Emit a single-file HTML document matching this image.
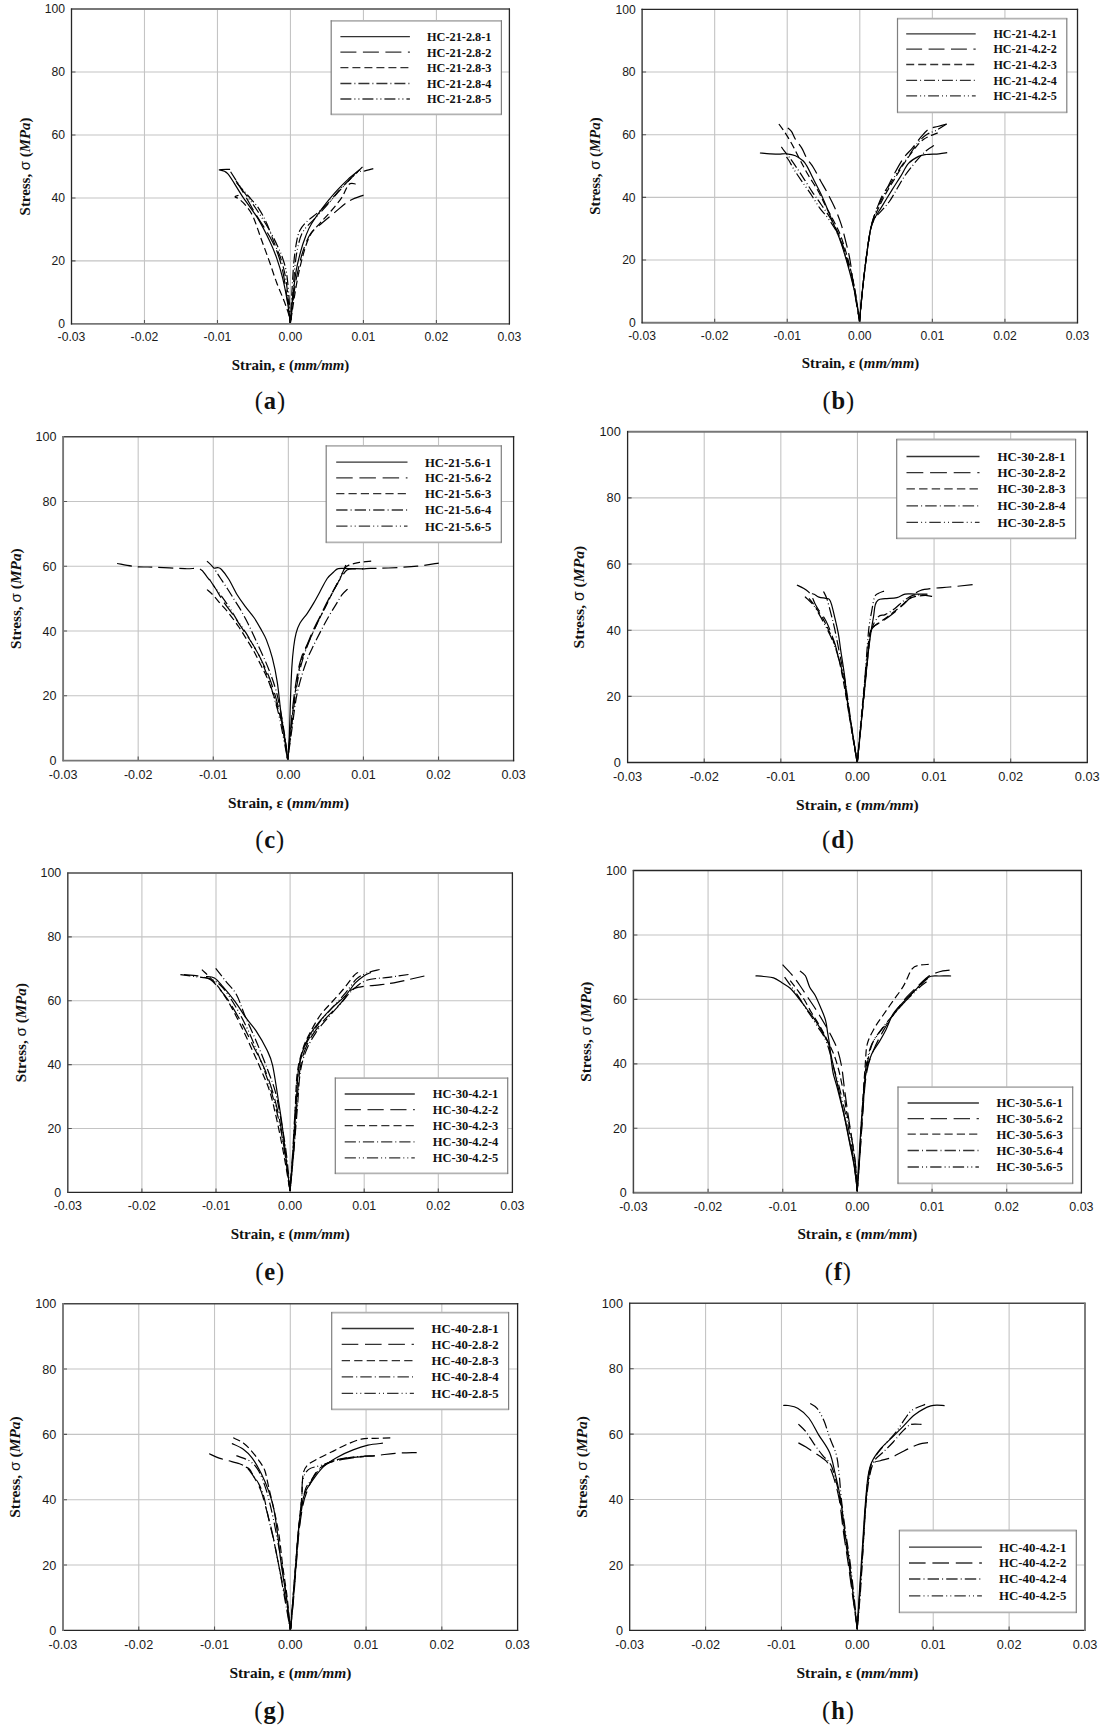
<!DOCTYPE html><html><head><meta charset="utf-8"><style>html,body{margin:0;padding:0;background:#fff;}svg{display:block}.tk{font-family:"Liberation Sans",sans-serif;font-size:12.2px;fill:#1a1a1a}.lg{font-family:"Liberation Serif",serif;font-weight:bold;font-size:12px;fill:#111}.ax{font-family:"Liberation Serif",serif;font-weight:bold;font-size:14.9px;fill:#111}.sb{font-family:"Liberation Serif",serif;font-size:24.5px;fill:#111;letter-spacing:0.9px}</style></head><body><svg width="1108" height="1732" viewBox="0 0 1108 1732"><rect width="1108" height="1732" fill="#fff"/><g><path d="M144.48 9V323.9M217.47 9V323.9M290.45 9V323.9M363.43 9V323.9M436.42 9V323.9M71.5 260.92H509.4M71.5 197.94H509.4M71.5 134.96H509.4M71.5 71.98H509.4" stroke="#c4c4c4" stroke-width="1.1" fill="none"/><path d="M144.48 323.9V319.9M217.47 323.9V319.9M290.45 323.9V319.9M363.43 323.9V319.9M436.42 323.9V319.9M71.5 260.92H75.5M71.5 197.94H75.5M71.5 134.96H75.5M71.5 71.98H75.5" stroke="#555" stroke-width="1.1" fill="none"/><rect x="331.2" y="20.8" width="170.2" height="93.5" fill="#fff"/><path d="M330.7 20.8H501.9M330.7 114.3H501.9" stroke="#b2b2b2" stroke-width="1.8" fill="none"/><path d="M331.2 20.3V114.8M501.4 20.3V114.8" stroke="#7f7f7f" stroke-width="1.2" fill="none"/><path d="M340.4 36.7H409.9" stroke="#333" stroke-width="1.3" fill="none"/><text class="lg" style="font-size:12px" x="427" y="41" textLength="64.5" lengthAdjust="spacingAndGlyphs">HC-21-2.8-1</text><path d="M340.4 52.2H409.9" stroke="#333" stroke-width="1.3" fill="none" stroke-dasharray="16.0 6.5"/><text class="lg" style="font-size:12px" x="427" y="56.5" textLength="64.5" lengthAdjust="spacingAndGlyphs">HC-21-2.8-2</text><path d="M340.4 67.6H409.9" stroke="#333" stroke-width="1.3" fill="none" stroke-dasharray="8.0 4.0"/><text class="lg" style="font-size:12px" x="427" y="71.9" textLength="64.5" lengthAdjust="spacingAndGlyphs">HC-21-2.8-3</text><path d="M340.4 83.5H409.9" stroke="#333" stroke-width="1.3" fill="none" stroke-dasharray="11.0 3.0 1.0 3.0"/><text class="lg" style="font-size:12px" x="427" y="87.8" textLength="64.5" lengthAdjust="spacingAndGlyphs">HC-21-2.8-4</text><path d="M340.4 99H409.9" stroke="#333" stroke-width="1.3" fill="none" stroke-dasharray="11.0 3.0 1.0 3.0 1.0 3.0"/><text class="lg" style="font-size:12px" x="427" y="103.3" textLength="64.5" lengthAdjust="spacingAndGlyphs">HC-21-2.8-5</text><path d="M230.1 169.3C228.3 169.38 219.7 169.07 219.3 169.8C218.9 170.53 223.85 169.28 227.7 173.7C231.55 178.12 237.33 188.77 242.4 196.3C247.47 203.83 253.52 211.37 258.1 218.9C262.68 226.43 266.8 234.97 269.9 241.5C273 248.03 274.58 252.05 276.7 258.1C278.82 264.15 280.8 270.43 282.6 277.8C284.4 285.17 286.22 294.78 287.5 302.3C288.78 309.82 289.83 319.47 290.3 322.9" stroke="#000" stroke-width="1.2" fill="none" stroke-linejoin="round"/><path d="M236 180.6C236.9 182.07 239.35 185.97 241.4 189.4C243.45 192.83 245.85 196.95 248.3 201.2C250.75 205.45 253.32 210.32 256.1 214.9C258.88 219.48 262.22 224.12 265 228.7C267.78 233.28 270.52 237.82 272.8 242.4C275.08 246.98 276.98 251.12 278.7 256.2C280.42 261.28 281.72 266.03 283.1 272.9C284.48 279.77 285.8 289.07 287 297.4C288.2 305.73 289.75 318.65 290.3 322.9" stroke="#000" stroke-width="1.2" fill="none" stroke-linejoin="round" stroke-dasharray="14.4 5.8"/><path d="M238.5 195.3C237.92 195.55 234.85 196.13 235 196.8C235.15 197.47 237.52 197.75 239.4 199.3C241.28 200.85 244 203.17 246.3 206.1C248.6 209.03 250.75 211.5 253.2 216.9C255.65 222.3 258.38 231.3 261 238.5C263.62 245.7 266.28 252.73 268.9 260.1C271.52 267.47 274.08 275.67 276.7 282.7C279.32 289.73 282.47 296.58 284.6 302.3C286.73 308.02 288.55 313.57 289.5 317C290.45 320.43 290.17 321.92 290.3 322.9" stroke="#000" stroke-width="1.2" fill="none" stroke-linejoin="round" stroke-dasharray="7.2 3.6"/><path d="M236.5 182.6C237.48 183.73 239.95 186.62 242.4 189.4C244.85 192.18 248.42 196.02 251.2 199.3C253.98 202.58 256.48 205.02 259.1 209.1C261.72 213.18 264.28 217.92 266.9 223.8C269.52 229.68 272.5 238.68 274.8 244.4C277.1 250.12 278.9 252.53 280.7 258.1C282.5 263.67 284.3 270.43 285.6 277.8C286.9 285.17 287.72 294.78 288.5 302.3C289.28 309.82 290 319.47 290.3 322.9" stroke="#000" stroke-width="1.2" fill="none" stroke-linejoin="round" stroke-dasharray="9.9 2.7 0.9 2.7"/><path d="M230.6 171.8C232.4 174.58 237.8 183.27 241.4 188.5C245 193.73 248.77 198.3 252.2 203.2C255.63 208.1 258.9 213 262 217.9C265.1 222.8 268.18 227.85 270.8 232.6C273.42 237.35 275.73 242.15 277.7 246.4C279.67 250.65 281.13 253.68 282.6 258.1C284.07 262.52 285.43 266.35 286.5 272.9C287.57 279.45 288.37 289.07 289 297.4C289.63 305.73 290.08 318.65 290.3 322.9" stroke="#000" stroke-width="1.2" fill="none" stroke-linejoin="round" stroke-dasharray="9.9 2.7 0.9 2.7 0.9 2.7"/><path d="M359.6 169.8C357.63 171.43 351.4 176.33 347.8 179.6C344.2 182.87 341.6 185.47 338 189.4C334.4 193.33 330.62 197.47 326.2 203.2C321.78 208.93 314.93 218.25 311.5 223.8C308.07 229.35 307.4 231.92 305.6 236.5C303.8 241.08 302.33 245.23 300.7 251.3C299.07 257.37 297.18 264.4 295.8 272.9C294.42 281.4 293.3 293.88 292.4 302.3C291.5 310.72 290.73 319.88 290.4 323.4" stroke="#000" stroke-width="1.2" fill="none" stroke-linejoin="round"/><path d="M363.5 195.1C361.05 196.12 353.7 198.22 348.8 201.2C343.9 204.18 338.52 209.4 334.1 213C329.68 216.6 326.15 219.45 322.3 222.8C318.45 226.15 313.95 229.17 311 233.1C308.05 237.03 306.48 241.42 304.6 246.4C302.72 251.38 301.33 256.13 299.7 263C298.07 269.87 296.35 277.53 294.8 287.6C293.25 297.67 291.13 317.43 290.4 323.4" stroke="#000" stroke-width="1.2" fill="none" stroke-linejoin="round" stroke-dasharray="14.4 5.8"/><path d="M355.7 184C354.55 184.08 351.1 182.28 348.8 184.5C346.5 186.72 344.85 192.88 341.9 197.3C338.95 201.72 334.7 206.75 331.1 211C327.5 215.25 323.73 218.87 320.3 222.8C316.87 226.73 313.28 229.53 310.5 234.6C307.72 239.67 305.88 245.18 303.6 253.2C301.32 261.22 299 271 296.8 282.7C294.6 294.4 291.47 316.62 290.4 323.4" stroke="#000" stroke-width="1.2" fill="none" stroke-linejoin="round" stroke-dasharray="7.2 3.6"/><path d="M362.5 166.9C361.03 168.37 357.45 171.95 353.7 175.7C349.95 179.45 344.25 184.82 340 189.4C335.75 193.98 331.97 199.27 328.2 203.2C324.43 207.13 321 209.9 317.4 213C313.8 216.1 309.55 218.85 306.6 221.8C303.65 224.75 301.42 227.1 299.7 230.7C297.98 234.3 297.28 238.02 296.3 243.4C295.32 248.78 294.53 254.82 293.8 263C293.07 271.18 292.47 282.43 291.9 292.5C291.33 302.57 290.65 318.25 290.4 323.4" stroke="#000" stroke-width="1.2" fill="none" stroke-linejoin="round" stroke-dasharray="9.9 2.7 0.9 2.7"/><path d="M373.3 168.6C371.67 169.05 366.12 170.68 363.5 171.3C360.88 171.92 360.05 170.75 357.6 172.3C355.15 173.85 352.07 177.25 348.8 180.6C345.53 183.95 341.77 188.15 338 192.4C334.23 196.65 330.13 201.68 326.2 206.1C322.27 210.52 318.17 214.8 314.4 218.9C310.63 223 306.22 226.62 303.6 230.7C300.98 234.78 300.08 238.02 298.7 243.4C297.32 248.78 296.27 254.82 295.3 263C294.33 271.18 293.72 282.43 292.9 292.5C292.08 302.57 290.82 318.25 290.4 323.4" stroke="#000" stroke-width="1.2" fill="none" stroke-linejoin="round" stroke-dasharray="9.9 2.7 0.9 2.7 0.9 2.7"/><path d="M70.9 9H510" stroke="#777" stroke-width="1.9" fill="none"/><path d="M70.9 323.9H510" stroke="#777" stroke-width="1.9" fill="none"/><path d="M71.5 8.4V324.5" stroke="#262626" stroke-width="1.3" fill="none"/><path d="M509.4 8.4V324.5" stroke="#262626" stroke-width="1.3" fill="none"/><text class="tk" style="font-size:12.2px" x="71.5" y="341.2" text-anchor="middle">-0.03</text><text class="tk" style="font-size:12.2px" x="144.48" y="341.2" text-anchor="middle">-0.02</text><text class="tk" style="font-size:12.2px" x="217.47" y="341.2" text-anchor="middle">-0.01</text><text class="tk" style="font-size:12.2px" x="290.45" y="341.2" text-anchor="middle">0.00</text><text class="tk" style="font-size:12.2px" x="363.43" y="341.2" text-anchor="middle">0.01</text><text class="tk" style="font-size:12.2px" x="436.42" y="341.2" text-anchor="middle">0.02</text><text class="tk" style="font-size:12.2px" x="509.4" y="341.2" text-anchor="middle">0.03</text><text class="tk" style="font-size:12.2px" x="65" y="328.3" text-anchor="end">0</text><text class="tk" style="font-size:12.2px" x="65" y="265.32" text-anchor="end">20</text><text class="tk" style="font-size:12.2px" x="65" y="202.34" text-anchor="end">40</text><text class="tk" style="font-size:12.2px" x="65" y="139.36" text-anchor="end">60</text><text class="tk" style="font-size:12.2px" x="65" y="76.38" text-anchor="end">80</text><text class="tk" style="font-size:12.2px" x="65" y="13.4" text-anchor="end">100</text><text class="ax" x="231.75" y="370" textLength="117.5" lengthAdjust="spacingAndGlyphs">Strain, <tspan font-family="Liberation Serif">&#949;</tspan> (<tspan font-style="italic">mm/mm</tspan>)</text><text class="ax" style="font-size:14.9px" transform="translate(29.9 166.45) rotate(-90)" x="0" y="0" text-anchor="middle">Stress, <tspan font-family="Liberation Sans" font-weight="normal">&#963;</tspan> (<tspan font-style="italic">MPa</tspan>)</text><text class="sb" x="270.4" y="408.6" text-anchor="middle">(<tspan font-weight="bold">a</tspan>)</text></g><g><path d="M714.67 9.3V322.75M787.23 9.3V322.75M859.8 9.3V322.75M932.37 9.3V322.75M1004.93 9.3V322.75M642.1 260.06H1077.5M642.1 197.37H1077.5M642.1 134.68H1077.5M642.1 71.99H1077.5" stroke="#c4c4c4" stroke-width="1.1" fill="none"/><path d="M714.67 322.75V318.75M787.23 322.75V318.75M859.8 322.75V318.75M932.37 322.75V318.75M1004.93 322.75V318.75M642.1 260.06H646.1M642.1 197.37H646.1M642.1 134.68H646.1M642.1 71.99H646.1" stroke="#555" stroke-width="1.1" fill="none"/><rect x="897.5" y="18.7" width="169.3" height="93.6" fill="#fff"/><path d="M897 18.7H1067.3M897 112.3H1067.3" stroke="#b2b2b2" stroke-width="1.8" fill="none"/><path d="M897.5 18.2V112.8M1066.8 18.2V112.8" stroke="#7f7f7f" stroke-width="1.2" fill="none"/><path d="M906.2 33.8H975.7" stroke="#333" stroke-width="1.3" fill="none"/><text class="lg" style="font-size:11.93px" x="993.4" y="38.07" textLength="63.5" lengthAdjust="spacingAndGlyphs">HC-21-4.2-1</text><path d="M906.2 49.2H975.7" stroke="#333" stroke-width="1.3" fill="none" stroke-dasharray="15.9 6.5"/><text class="lg" style="font-size:11.93px" x="993.4" y="53.47" textLength="63.5" lengthAdjust="spacingAndGlyphs">HC-21-4.2-2</text><path d="M906.2 64.5H975.7" stroke="#333" stroke-width="1.3" fill="none" stroke-dasharray="8.0 4.0"/><text class="lg" style="font-size:11.93px" x="993.4" y="68.77" textLength="63.5" lengthAdjust="spacingAndGlyphs">HC-21-4.2-3</text><path d="M906.2 80.4H975.7" stroke="#333" stroke-width="1.3" fill="none" stroke-dasharray="10.9 3.0 1.0 3.0"/><text class="lg" style="font-size:11.93px" x="993.4" y="84.67" textLength="63.5" lengthAdjust="spacingAndGlyphs">HC-21-4.2-4</text><path d="M906.2 95.9H975.7" stroke="#333" stroke-width="1.3" fill="none" stroke-dasharray="10.9 3.0 1.0 3.0 1.0 3.0"/><text class="lg" style="font-size:11.93px" x="993.4" y="100.17" textLength="63.5" lengthAdjust="spacingAndGlyphs">HC-21-4.2-5</text><path d="M759.9 153C761.58 153.13 766.83 153.6 770 153.8C773.17 154 776.15 154.2 778.9 154.2C781.65 154.2 783.75 153.55 786.5 153.8C789.25 154.05 792.65 154.53 795.4 155.7C798.15 156.87 801.1 159.1 803 160.8C804.9 162.5 804.88 162.5 806.8 165.9C808.72 169.3 811.95 176.12 814.5 181.2C817.05 186.28 819.77 191.32 822.1 196.4C824.43 201.48 826.38 206.62 828.5 211.7C830.62 216.78 832.68 221.62 834.8 226.9C836.92 232.18 838.87 236.42 841.2 243.4C843.53 250.38 846.48 260.33 848.8 268.8C851.12 277.27 853.3 285.4 855.1 294.2C856.9 303 858.85 317.03 859.6 321.6" stroke="#000" stroke-width="1.2" fill="none" stroke-linejoin="round"/><path d="M787.8 127.8C788.43 128.43 790.33 129.7 791.6 131.6C792.87 133.5 793.7 136.45 795.4 139.2C797.1 141.95 799.9 144.92 801.8 148.1C803.7 151.28 804.9 155.12 806.8 158.3C808.7 161.48 810.87 163.38 813.2 167.2C815.53 171.02 818.47 176.97 820.8 181.2C823.13 185.43 824.87 188.17 827.2 192.6C829.53 197.03 832.47 202.5 834.8 207.8C837.13 213.1 839.3 218.47 841.2 224.4C843.1 230.33 844.72 237.37 846.2 243.4C847.68 249.43 848.82 253.18 850.1 260.6C851.38 268.02 852.32 277.73 853.9 287.9C855.48 298.07 858.65 315.98 859.6 321.6" stroke="#000" stroke-width="1.2" fill="none" stroke-linejoin="round" stroke-dasharray="14.3 5.8"/><path d="M778.9 124C779.95 125.48 783.5 130.37 785.2 132.9C786.9 135.43 787.62 136.67 789.1 139.2C790.58 141.73 792.2 144.5 794.1 148.1C796 151.7 798.17 156.35 800.5 160.8C802.83 165.25 805.13 169.72 808.1 174.8C811.07 179.88 815.33 186 818.3 191.3C821.27 196.6 823.37 201.73 825.9 206.6C828.43 211.47 830.95 215.42 833.5 220.5C836.05 225.58 838.65 230.1 841.2 237.1C843.75 244.1 846.58 254.03 848.8 262.5C851.02 270.97 852.7 278.05 854.5 287.9C856.3 297.75 858.75 315.98 859.6 321.6" stroke="#000" stroke-width="1.2" fill="none" stroke-linejoin="round" stroke-dasharray="7.2 3.6"/><path d="M781.4 146.8C781.83 147.45 782.72 149 784 150.7C785.28 152.4 787.2 154.47 789.1 157C791 159.53 793.08 162.52 795.4 165.9C797.72 169.28 800.25 173.07 803 177.3C805.75 181.53 808.93 186.85 811.9 191.3C814.87 195.75 817.62 199.33 820.8 204C823.98 208.67 827.82 213.78 831 219.3C834.18 224.82 837.05 229.9 839.9 237.1C842.75 244.3 845.67 254.03 848.1 262.5C850.53 270.97 852.58 278.05 854.5 287.9C856.42 297.75 858.75 315.98 859.6 321.6" stroke="#000" stroke-width="1.2" fill="none" stroke-linejoin="round" stroke-dasharray="9.8 2.7 0.9 2.7"/><path d="M786.5 157C786.93 157.63 787.83 158.68 789.1 160.8C790.37 162.92 791.98 166.3 794.1 169.7C796.22 173.1 799.03 177.17 801.8 181.2C804.57 185.23 807.73 189.47 810.7 193.9C813.67 198.33 816.43 203.37 819.6 207.8C822.77 212.23 826.43 215.62 829.7 220.5C832.97 225.38 836.23 230.1 839.2 237.1C842.17 244.1 845.05 254.03 847.5 262.5C849.95 270.97 851.88 278.05 853.9 287.9C855.92 297.75 858.65 315.98 859.6 321.6" stroke="#000" stroke-width="1.2" fill="none" stroke-linejoin="round" stroke-dasharray="9.8 2.7 0.9 2.7 0.9 2.7"/><path d="M947.2 152.6C945.82 152.8 942.4 153.48 938.9 153.8C935.4 154.12 929.58 154.07 926.2 154.5C922.82 154.93 921.55 154.92 918.6 156.4C915.65 157.88 911.47 160.12 908.5 163.4C905.53 166.68 903.57 171.65 900.8 176.1C898.03 180.55 895.07 185.02 891.9 190.1C888.73 195.18 884.77 201.73 881.8 206.6C878.83 211.47 876.02 215.28 874.1 219.3C872.18 223.32 871.57 224.57 870.3 230.7C869.03 236.83 867.77 246.57 866.5 256.1C865.23 265.63 863.87 276.98 862.7 287.9C861.53 298.82 860.03 315.98 859.5 321.6" stroke="#000" stroke-width="1.2" fill="none" stroke-linejoin="round"/><path d="M946.6 124C945.12 124.42 940.67 125.65 937.7 126.5C934.73 127.35 931.55 127.4 928.8 129.1C926.05 130.8 923.95 133.53 921.2 136.7C918.45 139.87 915.27 144.5 912.3 148.1C909.33 151.7 906.37 154.07 903.4 158.3C900.43 162.53 897.05 168.85 894.5 173.5C891.95 178.15 890.22 182.38 888.1 186.2C885.98 190.02 883.7 192.58 881.8 196.4C879.9 200.22 878.08 205.5 876.7 209.1C875.32 212.7 874.57 214.4 873.5 218C872.43 221.6 871.47 224.35 870.3 230.7C869.13 237.05 867.77 246.57 866.5 256.1C865.23 265.63 863.87 276.98 862.7 287.9C861.53 298.82 860.03 315.98 859.5 321.6" stroke="#000" stroke-width="1.2" fill="none" stroke-linejoin="round" stroke-dasharray="14.3 5.8"/><path d="M937.7 132.9C936.63 133.32 933.63 134.35 931.3 135.4C928.97 136.45 926.23 137.3 923.7 139.2C921.17 141.1 918.63 143.83 916.1 146.8C913.57 149.77 911.05 153.38 908.5 157C905.95 160.62 903.35 164.47 900.8 168.5C898.25 172.53 895.73 176.97 893.2 181.2C890.67 185.43 887.93 189.67 885.6 193.9C883.27 198.13 881.12 202.58 879.2 206.6C877.28 210.62 875.58 213.98 874.1 218C872.62 222.02 871.57 224.35 870.3 230.7C869.03 237.05 867.77 246.57 866.5 256.1C865.23 265.63 863.87 276.98 862.7 287.9C861.53 298.82 860.03 315.98 859.5 321.6" stroke="#000" stroke-width="1.2" fill="none" stroke-linejoin="round" stroke-dasharray="7.2 3.6"/><path d="M933.9 145.6C932.62 146.45 928.75 148.58 926.2 150.7C923.65 152.82 920.92 155.77 918.6 158.3C916.28 160.83 914.63 162.93 912.3 165.9C909.97 168.87 907.15 172.28 904.6 176.1C902.05 179.92 899.53 184.57 897 188.8C894.47 193.03 891.93 197.9 889.4 201.5C886.87 205.1 884.35 207.43 881.8 210.4C879.25 213.37 876.02 215.92 874.1 219.3C872.18 222.68 871.57 224.57 870.3 230.7C869.03 236.83 867.77 246.57 866.5 256.1C865.23 265.63 863.87 276.98 862.7 287.9C861.53 298.82 860.03 315.98 859.5 321.6" stroke="#000" stroke-width="1.2" fill="none" stroke-linejoin="round" stroke-dasharray="9.8 2.7 0.9 2.7"/><path d="M946.6 124C944.9 125.05 939.58 128.62 936.4 130.3C933.22 131.98 930.47 132.18 927.5 134.1C924.53 136.02 921.57 138.4 918.6 141.8C915.63 145.2 912.67 150.27 909.7 154.5C906.73 158.73 903.77 162.75 900.8 167.2C897.83 171.65 894.65 176.75 891.9 181.2C889.15 185.65 886.62 189.67 884.3 193.9C881.98 198.13 879.8 202.58 878 206.6C876.2 210.62 874.78 213.98 873.5 218C872.22 222.02 871.47 224.35 870.3 230.7C869.13 237.05 867.77 246.57 866.5 256.1C865.23 265.63 863.87 276.98 862.7 287.9C861.53 298.82 860.03 315.98 859.5 321.6" stroke="#000" stroke-width="1.2" fill="none" stroke-linejoin="round" stroke-dasharray="9.8 2.7 0.9 2.7 0.9 2.7"/><path d="M641.5 9.3H1078.1" stroke="#262626" stroke-width="1.3" fill="none"/><path d="M641.5 322.75H1078.1" stroke="#777" stroke-width="1.9" fill="none"/><path d="M642.1 8.7V323.35" stroke="#262626" stroke-width="1.3" fill="none"/><path d="M1077.5 8.7V323.35" stroke="#262626" stroke-width="1.3" fill="none"/><text class="tk" style="font-size:12.13px" x="642.1" y="339.95" text-anchor="middle">-0.03</text><text class="tk" style="font-size:12.13px" x="714.67" y="339.95" text-anchor="middle">-0.02</text><text class="tk" style="font-size:12.13px" x="787.23" y="339.95" text-anchor="middle">-0.01</text><text class="tk" style="font-size:12.13px" x="859.8" y="339.95" text-anchor="middle">0.00</text><text class="tk" style="font-size:12.13px" x="932.37" y="339.95" text-anchor="middle">0.01</text><text class="tk" style="font-size:12.13px" x="1004.93" y="339.95" text-anchor="middle">0.02</text><text class="tk" style="font-size:12.13px" x="1077.5" y="339.95" text-anchor="middle">0.03</text><text class="tk" style="font-size:12.13px" x="635.64" y="327.12" text-anchor="end">0</text><text class="tk" style="font-size:12.13px" x="635.64" y="264.43" text-anchor="end">20</text><text class="tk" style="font-size:12.13px" x="635.64" y="201.74" text-anchor="end">40</text><text class="tk" style="font-size:12.13px" x="635.64" y="139.05" text-anchor="end">60</text><text class="tk" style="font-size:12.13px" x="635.64" y="76.36" text-anchor="end">80</text><text class="tk" style="font-size:12.13px" x="635.64" y="13.67" text-anchor="end">100</text><text class="ax" x="801.7" y="368.4" textLength="117.5" lengthAdjust="spacingAndGlyphs">Strain, <tspan font-family="Liberation Serif">&#949;</tspan> (<tspan font-style="italic">mm/mm</tspan>)</text><text class="ax" style="font-size:14.81px" transform="translate(600.3 166.03) rotate(-90)" x="0" y="0" text-anchor="middle">Stress, <tspan font-family="Liberation Sans" font-weight="normal">&#963;</tspan> (<tspan font-style="italic">MPa</tspan>)</text><text class="sb" x="838.8" y="409.2" text-anchor="middle">(<tspan font-weight="bold">b</tspan>)</text></g><g><path d="M138.18 436.7V760.6M213.27 436.7V760.6M288.35 436.7V760.6M363.43 436.7V760.6M438.52 436.7V760.6M63.1 695.82H513.6M63.1 631.04H513.6M63.1 566.26H513.6M63.1 501.48H513.6" stroke="#c4c4c4" stroke-width="1.1" fill="none"/><path d="M138.18 760.6V756.6M213.27 760.6V756.6M288.35 760.6V756.6M363.43 760.6V756.6M438.52 760.6V756.6M63.1 695.82H67.1M63.1 631.04H67.1M63.1 566.26H67.1M63.1 501.48H67.1" stroke="#555" stroke-width="1.1" fill="none"/><rect x="326.2" y="445.8" width="175.1" height="96.5" fill="#fff"/><path d="M325.7 445.8H501.8M325.7 542.3H501.8" stroke="#b2b2b2" stroke-width="1.8" fill="none"/><path d="M326.2 445.3V542.8M501.3 445.3V542.8" stroke="#7f7f7f" stroke-width="1.2" fill="none"/><path d="M336.2 462.2H407.5" stroke="#333" stroke-width="1.3" fill="none"/><text class="lg" style="font-size:12.34px" x="425" y="466.62" textLength="66.4" lengthAdjust="spacingAndGlyphs">HC-21-5.6-1</text><path d="M336.2 477.9H407.5" stroke="#333" stroke-width="1.3" fill="none" stroke-dasharray="16.5 6.7"/><text class="lg" style="font-size:12.34px" x="425" y="482.32" textLength="66.4" lengthAdjust="spacingAndGlyphs">HC-21-5.6-2</text><path d="M336.2 493.6H407.5" stroke="#333" stroke-width="1.3" fill="none" stroke-dasharray="8.2 4.1"/><text class="lg" style="font-size:12.34px" x="425" y="498.02" textLength="66.4" lengthAdjust="spacingAndGlyphs">HC-21-5.6-3</text><path d="M336.2 510H407.5" stroke="#333" stroke-width="1.3" fill="none" stroke-dasharray="11.3 3.1 1.0 3.1"/><text class="lg" style="font-size:12.34px" x="425" y="514.42" textLength="66.4" lengthAdjust="spacingAndGlyphs">HC-21-5.6-4</text><path d="M336.2 526.1H407.5" stroke="#333" stroke-width="1.3" fill="none" stroke-dasharray="11.3 3.1 1.0 3.1 1.0 3.1"/><text class="lg" style="font-size:12.34px" x="425" y="530.52" textLength="66.4" lengthAdjust="spacingAndGlyphs">HC-21-5.6-5</text><path d="M214.2 568.3C214.82 568.2 216.68 567.5 217.9 567.7C219.12 567.9 219.68 567.58 221.5 569.5C223.32 571.42 226.17 574.95 228.8 579.2C231.43 583.45 234.47 590.35 237.3 595C240.13 599.65 242.97 603.27 245.8 607.1C248.63 610.93 251.68 614.15 254.3 618C256.92 621.85 259.48 626.55 261.5 630.2C263.52 633.85 264.58 635.25 266.4 639.9C268.22 644.55 270.58 651.03 272.4 658.1C274.22 665.17 275.88 673.22 277.3 682.3C278.72 691.38 279.68 703.5 280.9 712.6C282.12 721.7 283.48 729.12 284.6 736.9C285.72 744.68 287.1 755.57 287.6 759.3" stroke="#000" stroke-width="1.2" fill="none" stroke-linejoin="round"/><path d="M117.1 563.5C120.27 564.03 129.92 566.1 136.1 566.7C142.28 567.3 146.05 566.77 154.2 567.1C162.35 567.43 177.42 568.4 185 568.7C192.58 569 196.03 567.55 199.7 568.9C203.37 570.25 204.58 573.87 207 576.8C209.42 579.73 211.38 582.25 214.2 586.5C217.02 590.75 220.67 597.45 223.9 602.3C227.13 607.15 230.37 610.95 233.6 615.6C236.83 620.25 240.07 625.35 243.3 630.2C246.53 635.05 249.97 639.67 253 644.7C256.03 649.73 258.87 655.15 261.5 660.4C264.13 665.65 266.57 670.53 268.8 676.2C271.03 681.87 273.08 688.33 274.9 694.4C276.72 700.47 278.28 706.53 279.7 712.6C281.12 718.67 282.08 723.02 283.4 730.8C284.72 738.58 286.9 754.55 287.6 759.3" stroke="#000" stroke-width="1.2" fill="none" stroke-linejoin="round" stroke-dasharray="14.8 6.0"/><path d="M207 589.6C208 590.5 210.78 592.68 213 595C215.22 597.32 217.67 600.47 220.3 603.5C222.93 606.53 225.77 609.37 228.8 613.2C231.83 617.03 235.47 622.05 238.5 626.5C241.53 630.95 244.37 635.65 247 639.9C249.63 644.15 252.08 647.97 254.3 652C256.52 656.03 258.28 660.07 260.3 664.1C262.32 668.13 264.58 672.15 266.4 676.2C268.22 680.25 269.38 683.35 271.2 688.4C273.02 693.45 275.48 700.45 277.3 706.5C279.12 712.55 280.38 715.9 282.1 724.7C283.82 733.5 286.68 753.53 287.6 759.3" stroke="#000" stroke-width="1.2" fill="none" stroke-linejoin="round" stroke-dasharray="7.4 3.7"/><path d="M207 561.1C208 562.1 210.78 564.28 213 567.1C215.22 569.92 217.87 574.35 220.3 578C222.73 581.65 225.38 585.57 227.6 589C229.82 592.43 231.57 595.37 233.6 598.6C235.63 601.83 237.77 604.95 239.8 608.4C241.83 611.85 243.8 615.47 245.8 619.3C247.8 623.13 249.78 627.17 251.8 631.4C253.82 635.63 255.87 640.25 257.9 644.7C259.93 649.15 261.98 653.45 264 658.1C266.02 662.75 267.98 667.15 270 672.6C272.02 678.05 274.28 684.13 276.1 690.8C277.92 697.47 279.28 703.92 280.9 712.6C282.52 721.28 284.68 735.12 285.8 742.9C286.92 750.68 287.3 756.57 287.6 759.3" stroke="#000" stroke-width="1.2" fill="none" stroke-linejoin="round" stroke-dasharray="10.2 2.8 0.9 2.8"/><path d="M209.4 579.2C210.2 580.42 212.18 583.67 214.2 586.5C216.22 589.33 218.87 592.55 221.5 596.2C224.13 599.85 227.37 604.35 230 608.4C232.63 612.45 234.67 616.47 237.3 620.5C239.93 624.53 243.18 628.52 245.8 632.6C248.42 636.68 250.78 641.17 253 645C255.22 648.83 257.07 651.4 259.1 655.6C261.13 659.8 263.38 665.55 265.2 670.2C267.02 674.85 268.38 678.45 270 683.5C271.62 688.55 273.28 694.63 274.9 700.5C276.52 706.37 277.58 708.9 279.7 718.7C281.82 728.5 286.28 752.53 287.6 759.3" stroke="#000" stroke-width="1.2" fill="none" stroke-linejoin="round" stroke-dasharray="10.2 2.8 0.9 2.8 0.9 2.8"/><path d="M363.2 568.9C360.72 568.85 352.45 568.65 348.3 568.6C344.15 568.55 340.78 567.98 338.3 568.6C335.82 569.22 335.25 570.65 333.4 572.3C331.55 573.95 329.48 575.18 327.2 578.5C324.92 581.82 321.98 588.05 319.7 592.2C317.42 596.35 315.57 599.88 313.5 603.4C311.43 606.92 309.57 610 307.3 613.3C305.03 616.6 301.77 619.88 299.9 623.2C298.03 626.52 297.13 629.27 296.1 633.2C295.07 637.13 294.42 641.02 293.7 646.8C292.98 652.58 292.33 659.22 291.8 667.9C291.27 676.58 290.92 687.52 290.5 698.9C290.08 710.28 289.77 726.05 289.3 736.2C288.83 746.35 287.97 755.87 287.7 759.8" stroke="#000" stroke-width="1.2" fill="none" stroke-linejoin="round"/><path d="M438.8 563.1C435.2 563.62 425.62 565.38 417.2 566.2C408.78 567.02 396.07 567.63 388.3 568C380.53 568.37 374.78 568.25 370.6 568.4C366.42 568.55 365.88 568.82 363.2 568.9C360.52 568.98 357.2 568.73 354.5 568.9C351.8 569.07 349.07 568.7 347 569.9C344.93 571.1 343.95 573.42 342.1 576.1C340.25 578.78 338.18 582.08 335.9 586C333.62 589.92 330.88 594.85 328.4 599.6C325.92 604.35 323.48 609.53 321 614.5C318.52 619.47 315.78 624.43 313.5 629.4C311.22 634.37 309.27 639.75 307.3 644.3C305.33 648.85 303.35 651.73 301.7 656.7C300.05 661.67 298.73 667.07 297.4 674.1C296.07 681.13 294.85 689.58 293.7 698.9C292.55 708.22 291.5 719.85 290.5 730C289.5 740.15 288.17 754.83 287.7 759.8" stroke="#000" stroke-width="1.2" fill="none" stroke-linejoin="round" stroke-dasharray="14.8 6.0"/><path d="M371.2 561.2C369.23 561.4 363.02 561.78 359.4 562.4C355.78 563.02 351.98 563.87 349.5 564.9C347.02 565.93 346.15 566.12 344.5 568.6C342.85 571.08 341.67 575.67 339.6 579.8C337.53 583.93 334.58 588.65 332.1 593.4C329.62 598.15 327.18 603.33 324.7 608.3C322.22 613.27 319.68 618.02 317.2 623.2C314.72 628.38 312.07 634.22 309.8 639.4C307.53 644.58 305.47 648.93 303.6 654.3C301.73 659.67 300.15 664.17 298.6 671.6C297.05 679.03 295.58 689.17 294.3 698.9C293.02 708.63 292 719.85 290.9 730C289.8 740.15 288.23 754.83 287.7 759.8" stroke="#000" stroke-width="1.2" fill="none" stroke-linejoin="round" stroke-dasharray="7.4 3.7"/><path d="M347.6 589.1C346.68 590.03 344.05 592.12 342.1 594.7C340.15 597.28 338.18 600.88 335.9 604.6C333.62 608.32 330.88 612.65 328.4 617C325.92 621.35 323.48 625.93 321 630.7C318.52 635.47 315.78 640.85 313.5 645.6C311.22 650.35 309.37 653.83 307.3 659.2C305.23 664.57 302.97 671.18 301.1 677.8C299.23 684.42 297.65 690.2 296.1 698.9C294.55 707.6 293.2 719.85 291.8 730C290.4 740.15 288.38 754.83 287.7 759.8" stroke="#000" stroke-width="1.2" fill="none" stroke-linejoin="round" stroke-dasharray="10.2 2.8 0.9 2.8"/><path d="M345.8 564.9C345.38 565.93 344.33 568.83 343.3 571.1C342.27 573.37 341.25 575.18 339.6 578.5C337.95 581.82 335.68 586.43 333.4 591C331.12 595.57 328.38 600.95 325.9 605.9C323.42 610.85 320.98 615.53 318.5 620.7C316.02 625.87 313.28 631.52 311 636.9C308.72 642.28 306.77 647 304.8 653C302.83 659 300.85 665.25 299.2 672.9C297.55 680.55 296.23 689.38 294.9 698.9C293.57 708.42 292.4 719.85 291.2 730C290 740.15 288.28 754.83 287.7 759.8" stroke="#000" stroke-width="1.2" fill="none" stroke-linejoin="round" stroke-dasharray="10.2 2.8 0.9 2.8 0.9 2.8"/><path d="M62.5 436.7H514.2" stroke="#454545" stroke-width="1.5" fill="none"/><path d="M62.5 760.6H514.2" stroke="#777" stroke-width="1.9" fill="none"/><path d="M63.1 436.1V761.2" stroke="#777" stroke-width="1.9" fill="none"/><path d="M513.6 436.1V761.2" stroke="#262626" stroke-width="1.3" fill="none"/><text class="tk" style="font-size:12.55px" x="63.1" y="778.6" text-anchor="middle">-0.03</text><text class="tk" style="font-size:12.55px" x="138.18" y="778.6" text-anchor="middle">-0.02</text><text class="tk" style="font-size:12.55px" x="213.27" y="778.6" text-anchor="middle">-0.01</text><text class="tk" style="font-size:12.55px" x="288.35" y="778.6" text-anchor="middle">0.00</text><text class="tk" style="font-size:12.55px" x="363.43" y="778.6" text-anchor="middle">0.01</text><text class="tk" style="font-size:12.55px" x="438.52" y="778.6" text-anchor="middle">0.02</text><text class="tk" style="font-size:12.55px" x="513.6" y="778.6" text-anchor="middle">0.03</text><text class="tk" style="font-size:12.55px" x="56.41" y="765.13" text-anchor="end">0</text><text class="tk" style="font-size:12.55px" x="56.41" y="700.35" text-anchor="end">20</text><text class="tk" style="font-size:12.55px" x="56.41" y="635.57" text-anchor="end">40</text><text class="tk" style="font-size:12.55px" x="56.41" y="570.79" text-anchor="end">60</text><text class="tk" style="font-size:12.55px" x="56.41" y="506.01" text-anchor="end">80</text><text class="tk" style="font-size:12.55px" x="56.41" y="441.23" text-anchor="end">100</text><text class="ax" x="228" y="808" textLength="121" lengthAdjust="spacingAndGlyphs">Strain, <tspan font-family="Liberation Serif">&#949;</tspan> (<tspan font-style="italic">mm/mm</tspan>)</text><text class="ax" style="font-size:15.33px" transform="translate(20.6 598.65) rotate(-90)" x="0" y="0" text-anchor="middle">Stress, <tspan font-family="Liberation Sans" font-weight="normal">&#963;</tspan> (<tspan font-style="italic">MPa</tspan>)</text><text class="sb" x="270.2" y="848.1" text-anchor="middle">(<tspan font-weight="bold">c</tspan>)</text></g><g><path d="M704.22 431.7V762.5M780.83 431.7V762.5M857.45 431.7V762.5M934.07 431.7V762.5M1010.68 431.7V762.5M627.6 696.34H1087.3M627.6 630.18H1087.3M627.6 564.02H1087.3M627.6 497.86H1087.3" stroke="#c4c4c4" stroke-width="1.1" fill="none"/><path d="M704.22 762.5V758.5M780.83 762.5V758.5M857.45 762.5V758.5M934.07 762.5V758.5M1010.68 762.5V758.5M627.6 696.34H631.6M627.6 630.18H631.6M627.6 564.02H631.6M627.6 497.86H631.6" stroke="#555" stroke-width="1.1" fill="none"/><rect x="896.7" y="439.5" width="178.9" height="98.9" fill="#fff"/><path d="M896.2 439.5H1076.1M896.2 538.4H1076.1" stroke="#b2b2b2" stroke-width="1.8" fill="none"/><path d="M896.7 439V538.9M1075.6 439V538.9" stroke="#7f7f7f" stroke-width="1.2" fill="none"/><path d="M906.5 456.5H979.5" stroke="#333" stroke-width="1.3" fill="none"/><text class="lg" style="font-size:12.59px" x="997.5" y="461.01" textLength="67.9" lengthAdjust="spacingAndGlyphs">HC-30-2.8-1</text><path d="M906.5 472.6H979.5" stroke="#333" stroke-width="1.3" fill="none" stroke-dasharray="16.8 6.8"/><text class="lg" style="font-size:12.59px" x="997.5" y="477.11" textLength="67.9" lengthAdjust="spacingAndGlyphs">HC-30-2.8-2</text><path d="M906.5 488.8H979.5" stroke="#333" stroke-width="1.3" fill="none" stroke-dasharray="8.4 4.2"/><text class="lg" style="font-size:12.59px" x="997.5" y="493.31" textLength="67.9" lengthAdjust="spacingAndGlyphs">HC-30-2.8-3</text><path d="M906.5 505.8H979.5" stroke="#333" stroke-width="1.3" fill="none" stroke-dasharray="11.5 3.1 1.0 3.1"/><text class="lg" style="font-size:12.59px" x="997.5" y="510.31" textLength="67.9" lengthAdjust="spacingAndGlyphs">HC-30-2.8-4</text><path d="M906.5 522.3H979.5" stroke="#333" stroke-width="1.3" fill="none" stroke-dasharray="11.5 3.1 1.0 3.1 1.0 3.1"/><text class="lg" style="font-size:12.59px" x="997.5" y="526.81" textLength="67.9" lengthAdjust="spacingAndGlyphs">HC-30-2.8-5</text><path d="M811.9 593.7C812.28 593.78 813.03 593.63 814.2 594.2C815.37 594.77 816.97 596.42 818.9 597.1C820.83 597.78 824.07 597.92 825.8 598.3C827.53 598.68 828.33 598.35 829.3 599.4C830.27 600.45 830.65 601.42 831.6 604.6C832.55 607.78 833.85 613.5 835 618.5C836.15 623.5 837.53 629.22 838.5 634.6C839.47 639.98 839.83 644.25 840.8 650.8C841.77 657.35 843.15 665.23 844.3 673.9C845.45 682.57 846.37 693.18 847.7 702.8C849.03 712.42 850.75 721.8 852.3 731.6C853.85 741.4 856.22 756.6 857 761.6" stroke="#000" stroke-width="1.2" fill="none" stroke-linejoin="round"/><path d="M796.9 585C798.07 585.58 801.97 587.35 803.9 588.5C805.83 589.65 807.17 590.55 808.5 591.9C809.83 593.25 810.75 594.48 811.9 596.6C813.05 598.72 814.23 602.3 815.4 604.6C816.57 606.9 817.37 608.08 818.9 610.4C820.43 612.72 823.07 616 824.6 618.5C826.13 621 826.93 622.72 828.1 625.4C829.27 628.08 830.45 631.52 831.6 634.6C832.75 637.68 834.05 640.82 835 643.9C835.95 646.98 836.33 649.45 837.3 653.1C838.27 656.75 839.63 661.37 840.8 665.8C841.97 670.23 843.15 673.53 844.3 679.7C845.45 685.87 846.37 694.15 847.7 702.8C849.03 711.45 850.75 721.8 852.3 731.6C853.85 741.4 856.22 756.6 857 761.6" stroke="#000" stroke-width="1.2" fill="none" stroke-linejoin="round" stroke-dasharray="15.1 6.1"/><path d="M809 598.3C809.68 599.17 811.65 601.48 813.1 603.5C814.55 605.52 815.97 607.72 817.7 610.4C819.43 613.08 821.77 616.52 823.5 619.6C825.23 622.68 826.57 625.62 828.1 628.9C829.63 632.18 831.35 636.03 832.7 639.3C834.05 642.57 835.05 644.65 836.2 648.5C837.35 652.35 838.45 657.2 839.6 662.4C840.75 667.6 841.85 672.97 843.1 679.7C844.35 686.43 845.65 694.15 847.1 702.8C848.55 711.45 850.15 721.8 851.8 731.6C853.45 741.4 856.13 756.6 857 761.6" stroke="#000" stroke-width="1.2" fill="none" stroke-linejoin="round" stroke-dasharray="7.6 3.8"/><path d="M823.5 591.4C824.07 592.65 825.65 595.15 826.9 598.9C828.15 602.65 829.75 609.1 831 613.9C832.25 618.7 833.25 622.52 834.4 627.7C835.55 632.88 836.73 639.22 837.9 645C839.07 650.78 840.25 656.62 841.4 662.4C842.55 668.18 843.65 672.97 844.8 679.7C845.95 686.43 847.05 694.15 848.3 702.8C849.55 711.45 850.85 721.8 852.3 731.6C853.75 741.4 856.22 756.6 857 761.6" stroke="#000" stroke-width="1.2" fill="none" stroke-linejoin="round" stroke-dasharray="10.4 2.8 0.9 2.8"/><path d="M805 596.6C805.38 596.98 805.95 597.57 807.3 598.9C808.65 600.23 811.17 602.1 813.1 604.6C815.03 607.1 816.98 610.62 818.9 613.9C820.82 617.18 822.68 620.65 824.6 624.3C826.52 627.95 828.57 631.77 830.4 635.8C832.23 639.83 834.07 644.07 835.6 648.5C837.13 652.93 838.25 657.2 839.6 662.4C840.95 667.6 842.4 672.97 843.7 679.7C845 686.43 846 694.15 847.4 702.8C848.8 711.45 850.5 721.8 852.1 731.6C853.7 741.4 856.18 756.6 857 761.6" stroke="#000" stroke-width="1.2" fill="none" stroke-linejoin="round" stroke-dasharray="10.4 2.8 0.9 2.8 0.9 2.8"/><path d="M927.4 594.1C925.25 594.1 918.22 594.1 914.5 594.1C910.78 594.1 908.03 593.52 905.1 594.1C902.17 594.68 900.22 596.83 896.9 597.6C893.58 598.37 888.32 598.32 885.2 598.7C882.08 599.08 879.87 598.82 878.2 599.9C876.53 600.98 875.98 602.37 875.2 605.2C874.42 608.03 874.18 612.6 873.5 616.9C872.82 621.2 872.08 624.15 871.1 631C870.12 637.85 868.77 647.63 867.6 658C866.43 668.37 865.27 681.47 864.1 693.2C862.93 704.93 861.73 716.87 860.6 728.4C859.47 739.93 857.85 756.73 857.3 762.4" stroke="#000" stroke-width="1.2" fill="none" stroke-linejoin="round"/><path d="M972.6 584.7C968.78 585.08 956.05 586.42 949.7 587C943.35 587.58 939.38 587.62 934.5 588.2C929.62 588.78 924.12 589.23 920.4 590.5C916.68 591.77 914.93 593.55 912.2 595.8C909.47 598.05 906.93 601.27 904 604C901.07 606.73 897.73 609.65 894.6 612.2C891.47 614.75 888.13 617.33 885.2 619.3C882.27 621.27 879.45 621.85 877 624C874.55 626.15 872.07 626.53 870.5 632.2C868.93 637.87 868.67 647.83 867.6 658C866.53 668.17 865.27 681.47 864.1 693.2C862.93 704.93 861.73 716.87 860.6 728.4C859.47 739.93 857.85 756.73 857.3 762.4" stroke="#000" stroke-width="1.2" fill="none" stroke-linejoin="round" stroke-dasharray="15.1 6.1"/><path d="M927.4 595.2C925.45 595.4 918.82 595.72 915.7 596.4C912.58 597.08 911.43 597.45 908.7 599.3C905.97 601.15 902.63 604.75 899.3 607.5C895.97 610.25 892.03 613.25 888.7 615.8C885.37 618.35 882.33 620.27 879.3 622.8C876.27 625.33 872.55 625.13 870.5 631C868.45 636.87 868.17 647.63 867 658C865.83 668.37 864.62 681.47 863.5 693.2C862.38 704.93 861.33 716.87 860.3 728.4C859.27 739.93 857.8 756.73 857.3 762.4" stroke="#000" stroke-width="1.2" fill="none" stroke-linejoin="round" stroke-dasharray="7.6 3.8"/><path d="M932.1 596.4C930.53 596.2 925.82 595.4 922.7 595.2C919.58 595 916.52 594.32 913.4 595.2C910.28 596.08 907.13 598.25 904 600.5C900.87 602.75 897.73 606.35 894.6 608.7C891.47 611.05 887.93 613.23 885.2 614.6C882.47 615.97 880.55 614.17 878.2 616.9C875.85 619.63 872.83 624.15 871.1 631C869.37 637.85 868.93 647.63 867.8 658C866.67 668.37 865.47 681.47 864.3 693.2C863.13 704.93 861.97 716.87 860.8 728.4C859.63 739.93 857.88 756.73 857.3 762.4" stroke="#000" stroke-width="1.2" fill="none" stroke-linejoin="round" stroke-dasharray="10.4 2.8 0.9 2.8"/><path d="M884 591.1C883.03 591.5 879.77 592.52 878.2 593.5C876.63 594.48 875.68 594.07 874.6 597C873.52 599.93 872.67 605.82 871.7 611.1C870.73 616.38 869.68 620.88 868.8 628.7C867.92 636.52 867.23 647.25 866.4 658C865.57 668.75 864.77 681.47 863.8 693.2C862.83 704.93 861.68 716.87 860.6 728.4C859.52 739.93 857.85 756.73 857.3 762.4" stroke="#000" stroke-width="1.2" fill="none" stroke-linejoin="round" stroke-dasharray="10.4 2.8 0.9 2.8 0.9 2.8"/><path d="M627 431.7H1087.9" stroke="#777" stroke-width="1.9" fill="none"/><path d="M627 762.5H1087.9" stroke="#262626" stroke-width="1.3" fill="none"/><path d="M627.6 431.1V763.1" stroke="#262626" stroke-width="1.3" fill="none"/><path d="M1087.3 431.1V763.1" stroke="#262626" stroke-width="1.3" fill="none"/><text class="tk" style="font-size:12.8px" x="627.6" y="781.1" text-anchor="middle">-0.03</text><text class="tk" style="font-size:12.8px" x="704.22" y="781.1" text-anchor="middle">-0.02</text><text class="tk" style="font-size:12.8px" x="780.83" y="781.1" text-anchor="middle">-0.01</text><text class="tk" style="font-size:12.8px" x="857.45" y="781.1" text-anchor="middle">0.00</text><text class="tk" style="font-size:12.8px" x="934.07" y="781.1" text-anchor="middle">0.01</text><text class="tk" style="font-size:12.8px" x="1010.68" y="781.1" text-anchor="middle">0.02</text><text class="tk" style="font-size:12.8px" x="1087.3" y="781.1" text-anchor="middle">0.03</text><text class="tk" style="font-size:12.8px" x="620.78" y="767.12" text-anchor="end">0</text><text class="tk" style="font-size:12.8px" x="620.78" y="700.96" text-anchor="end">20</text><text class="tk" style="font-size:12.8px" x="620.78" y="634.8" text-anchor="end">40</text><text class="tk" style="font-size:12.8px" x="620.78" y="568.64" text-anchor="end">60</text><text class="tk" style="font-size:12.8px" x="620.78" y="502.48" text-anchor="end">80</text><text class="tk" style="font-size:12.8px" x="620.78" y="436.32" text-anchor="end">100</text><text class="ax" x="796.1" y="810.3" textLength="122.7" lengthAdjust="spacingAndGlyphs">Strain, <tspan font-family="Liberation Serif">&#949;</tspan> (<tspan font-style="italic">mm/mm</tspan>)</text><text class="ax" style="font-size:15.64px" transform="translate(583.5 597.1) rotate(-90)" x="0" y="0" text-anchor="middle">Stress, <tspan font-family="Liberation Sans" font-weight="normal">&#963;</tspan> (<tspan font-style="italic">MPa</tspan>)</text><text class="sb" x="838.4" y="848.1" text-anchor="middle">(<tspan font-weight="bold">d</tspan>)</text></g><g><path d="M141.9 873V1192.4M216 873V1192.4M290.1 873V1192.4M364.2 873V1192.4M438.3 873V1192.4M67.8 1128.52H512.4M67.8 1064.64H512.4M67.8 1000.76H512.4M67.8 936.88H512.4" stroke="#c4c4c4" stroke-width="1.1" fill="none"/><path d="M141.9 1192.4V1188.4M216 1192.4V1188.4M290.1 1192.4V1188.4M364.2 1192.4V1188.4M438.3 1192.4V1188.4M67.8 1128.52H71.8M67.8 1064.64H71.8M67.8 1000.76H71.8M67.8 936.88H71.8" stroke="#555" stroke-width="1.1" fill="none"/><rect x="335.3" y="1078.1" width="172.4" height="95.3" fill="#fff"/><path d="M334.8 1078.1H508.2M334.8 1173.4H508.2" stroke="#b2b2b2" stroke-width="1.8" fill="none"/><path d="M335.3 1077.6V1173.9M507.7 1077.6V1173.9" stroke="#7f7f7f" stroke-width="1.2" fill="none"/><path d="M344.7 1094H414.8" stroke="#333" stroke-width="1.3" fill="none"/><text class="lg" style="font-size:12.18px" x="432.8" y="1098.36" textLength="65.5" lengthAdjust="spacingAndGlyphs">HC-30-4.2-1</text><path d="M344.7 1109.7H414.8" stroke="#333" stroke-width="1.3" fill="none" stroke-dasharray="16.2 6.6"/><text class="lg" style="font-size:12.18px" x="432.8" y="1114.06" textLength="65.5" lengthAdjust="spacingAndGlyphs">HC-30-4.2-2</text><path d="M344.7 1125.6H414.8" stroke="#333" stroke-width="1.3" fill="none" stroke-dasharray="8.1 4.1"/><text class="lg" style="font-size:12.18px" x="432.8" y="1129.96" textLength="65.5" lengthAdjust="spacingAndGlyphs">HC-30-4.2-3</text><path d="M344.7 1141.8H414.8" stroke="#333" stroke-width="1.3" fill="none" stroke-dasharray="11.2 3.0 1.0 3.0"/><text class="lg" style="font-size:12.18px" x="432.8" y="1146.16" textLength="65.5" lengthAdjust="spacingAndGlyphs">HC-30-4.2-4</text><path d="M344.7 1157.9H414.8" stroke="#333" stroke-width="1.3" fill="none" stroke-dasharray="11.2 3.0 1.0 3.0 1.0 3.0"/><text class="lg" style="font-size:12.18px" x="432.8" y="1162.26" textLength="65.5" lengthAdjust="spacingAndGlyphs">HC-30-4.2-5</text><path d="M206 976.6C207.4 976.83 211.62 976.38 214.4 978C217.18 979.62 219.25 982.37 222.7 986.3C226.15 990.23 231.18 996.28 235.1 1001.6C239.02 1006.92 242.73 1013.35 246.2 1018.2C249.67 1023.05 252.43 1025.38 255.9 1030.7C259.37 1036.02 264.22 1044.33 267 1050.1C269.78 1055.87 270.75 1057.22 272.6 1065.3C274.45 1073.38 276.48 1088.43 278.1 1098.6C279.72 1108.77 280.92 1115.9 282.3 1126.3C283.68 1136.7 285.12 1150.25 286.4 1161C287.68 1171.75 289.4 1185.83 290 1190.8" stroke="#000" stroke-width="1.2" fill="none" stroke-linejoin="round"/><path d="M183.9 974.6C186.2 974.82 193.32 975.1 197.7 975.9C202.08 976.7 206.97 977.67 210.2 979.4C213.43 981.13 214.1 982.83 217.1 986.3C220.1 989.77 224.03 993.95 228.2 1000.2C232.37 1006.45 237.93 1016.18 242.1 1023.8C246.27 1031.42 249.52 1038.52 253.2 1045.9C256.88 1053.28 260.97 1060.47 264.2 1068.1C267.43 1075.73 270.05 1083.15 272.6 1091.7C275.15 1100.25 277.43 1109.02 279.5 1119.4C281.57 1129.78 283.25 1142.1 285 1154C286.75 1165.9 289.17 1184.67 290 1190.8" stroke="#000" stroke-width="1.2" fill="none" stroke-linejoin="round" stroke-dasharray="14.6 5.9"/><path d="M201.9 969.7C204.2 972.02 211.32 978.28 215.7 983.6C220.08 988.92 224.27 995.13 228.2 1001.6C232.13 1008.07 235.6 1015.02 239.3 1022.4C243 1029.78 246.7 1037.82 250.4 1045.9C254.1 1053.98 258.27 1063.27 261.5 1070.9C264.73 1078.53 267.27 1083.62 269.8 1091.7C272.33 1099.78 274.38 1109.02 276.7 1119.4C279.02 1129.78 281.48 1142.1 283.7 1154C285.92 1165.9 288.95 1184.67 290 1190.8" stroke="#000" stroke-width="1.2" fill="none" stroke-linejoin="round" stroke-dasharray="7.3 3.7"/><path d="M215.7 968.3C217.32 970.38 221.93 976.4 225.4 980.8C228.87 985.2 233.27 988.93 236.5 994.7C239.73 1000.47 241.57 1007.78 244.8 1015.4C248.03 1023.02 252.2 1031.62 255.9 1040.4C259.6 1049.18 263.77 1059.55 267 1068.1C270.23 1076.65 272.98 1083.15 275.3 1091.7C277.62 1100.25 279.05 1109.02 280.9 1119.4C282.75 1129.78 284.88 1142.1 286.4 1154C287.92 1165.9 289.4 1184.67 290 1190.8" stroke="#000" stroke-width="1.2" fill="none" stroke-linejoin="round" stroke-dasharray="10.0 2.7 0.9 2.7"/><path d="M180.4 974.6C182.82 974.93 189.7 975.8 194.9 976.6C200.1 977.4 206.97 977.55 211.6 979.4C216.23 981.25 218.78 983.32 222.7 987.7C226.62 992.08 230.95 998.77 235.1 1005.7C239.25 1012.63 243.67 1020.98 247.6 1029.3C251.53 1037.62 255.47 1047.52 258.7 1055.6C261.93 1063.68 264.57 1070.63 267 1077.8C269.43 1084.97 271.22 1090.98 273.3 1098.6C275.38 1106.22 277.55 1114.27 279.5 1123.5C281.45 1132.73 283.25 1142.78 285 1154C286.75 1165.22 289.17 1184.67 290 1190.8" stroke="#000" stroke-width="1.2" fill="none" stroke-linejoin="round" stroke-dasharray="10.0 2.7 0.9 2.7 0.9 2.7"/><path d="M371 972.4C369.8 973 366.45 974.2 363.8 976C361.15 977.8 358.23 979.83 355.1 983.2C351.97 986.57 348.85 992.1 345 996.2C341.15 1000.3 336.33 1003.47 332 1007.8C327.67 1012.13 322.85 1017.4 319 1022.2C315.15 1027 311.78 1031.3 308.9 1036.6C306.02 1041.9 303.5 1047.98 301.7 1054C299.9 1060.02 299.07 1063.57 298.1 1072.7C297.13 1081.83 296.75 1095.55 295.9 1108.8C295.05 1122.05 293.97 1138.6 293 1152.2C292.03 1165.8 290.58 1184.03 290.1 1190.4" stroke="#000" stroke-width="1.2" fill="none" stroke-linejoin="round"/><path d="M424.4 976C420.07 976.97 405.62 980.35 398.4 981.8C391.18 983.25 387.35 983.87 381.1 984.7C374.85 985.53 365.95 985.85 360.9 986.8C355.85 987.75 354.18 987.63 350.8 990.4C347.42 993.17 344.7 998.82 340.6 1003.4C336.5 1007.98 330.77 1012.83 326.2 1017.9C321.63 1022.97 316.82 1028.27 313.2 1033.8C309.58 1039.33 306.78 1044.62 304.5 1051.1C302.22 1057.58 300.82 1063.08 299.5 1072.7C298.18 1082.32 297.57 1095.55 296.6 1108.8C295.63 1122.05 294.78 1138.6 293.7 1152.2C292.62 1165.8 290.7 1184.03 290.1 1190.4" stroke="#000" stroke-width="1.2" fill="none" stroke-linejoin="round" stroke-dasharray="14.6 5.9"/><path d="M358 972.4C357.27 973 356.02 973.23 353.6 976C351.18 978.77 347.1 984.67 343.5 989C339.9 993.33 335.85 997.67 332 1002C328.15 1006.33 324.02 1009.95 320.4 1015C316.78 1020.05 313.18 1026.77 310.3 1032.3C307.42 1037.83 305.27 1041.47 303.1 1048.2C300.93 1054.93 298.62 1062.6 297.3 1072.7C295.98 1082.8 295.92 1095.55 295.2 1108.8C294.48 1122.05 293.85 1138.6 293 1152.2C292.15 1165.8 290.58 1184.03 290.1 1190.4" stroke="#000" stroke-width="1.2" fill="none" stroke-linejoin="round" stroke-dasharray="7.3 3.7"/><path d="M408.5 974.5C405.13 974.98 395.28 976.43 388.3 977.4C381.32 978.37 372.62 978.13 366.6 980.3C360.58 982.47 356.28 986.78 352.2 990.4C348.12 994.02 345.95 997.67 342.1 1002C338.25 1006.33 333.43 1011.35 329.1 1016.4C324.77 1021.45 319.95 1026.52 316.1 1032.3C312.25 1038.08 308.65 1044.37 306 1051.1C303.35 1057.83 301.65 1063.08 300.2 1072.7C298.75 1082.32 298.38 1095.55 297.3 1108.8C296.22 1122.05 294.9 1138.6 293.7 1152.2C292.5 1165.8 290.7 1184.03 290.1 1190.4" stroke="#000" stroke-width="1.2" fill="none" stroke-linejoin="round" stroke-dasharray="10.0 2.7 0.9 2.7"/><path d="M379.6 969.5C377.43 970.1 370.45 971.53 366.6 973.1C362.75 974.67 359.87 975.77 356.5 978.9C353.13 982.03 350 987.57 346.4 991.9C342.8 996.23 338.98 1000.33 334.9 1004.9C330.82 1009.47 325.88 1014.25 321.9 1019.3C317.92 1024.35 314.13 1029.9 311 1035.2C307.87 1040.5 305.25 1044.85 303.1 1051.1C300.95 1057.35 299.42 1063.08 298.1 1072.7C296.78 1082.32 296.1 1095.55 295.2 1108.8C294.3 1122.05 293.55 1138.6 292.7 1152.2C291.85 1165.8 290.53 1184.03 290.1 1190.4" stroke="#000" stroke-width="1.2" fill="none" stroke-linejoin="round" stroke-dasharray="10.0 2.7 0.9 2.7 0.9 2.7"/><path d="M67.2 873H513" stroke="#777" stroke-width="1.9" fill="none"/><path d="M67.2 1192.4H513" stroke="#262626" stroke-width="1.3" fill="none"/><path d="M67.8 872.4V1193" stroke="#454545" stroke-width="1.5" fill="none"/><path d="M512.4 872.4V1193" stroke="#262626" stroke-width="1.3" fill="none"/><text class="tk" style="font-size:12.38px" x="67.8" y="1210.15" text-anchor="middle">-0.03</text><text class="tk" style="font-size:12.38px" x="141.9" y="1210.15" text-anchor="middle">-0.02</text><text class="tk" style="font-size:12.38px" x="216" y="1210.15" text-anchor="middle">-0.01</text><text class="tk" style="font-size:12.38px" x="290.1" y="1210.15" text-anchor="middle">0.00</text><text class="tk" style="font-size:12.38px" x="364.2" y="1210.15" text-anchor="middle">0.01</text><text class="tk" style="font-size:12.38px" x="438.3" y="1210.15" text-anchor="middle">0.02</text><text class="tk" style="font-size:12.38px" x="512.4" y="1210.15" text-anchor="middle">0.03</text><text class="tk" style="font-size:12.38px" x="61.2" y="1196.87" text-anchor="end">0</text><text class="tk" style="font-size:12.38px" x="61.2" y="1132.99" text-anchor="end">20</text><text class="tk" style="font-size:12.38px" x="61.2" y="1069.11" text-anchor="end">40</text><text class="tk" style="font-size:12.38px" x="61.2" y="1005.23" text-anchor="end">60</text><text class="tk" style="font-size:12.38px" x="61.2" y="941.35" text-anchor="end">80</text><text class="tk" style="font-size:12.38px" x="61.2" y="877.47" text-anchor="end">100</text><text class="ax" x="230.7" y="1238.9" textLength="119" lengthAdjust="spacingAndGlyphs">Strain, <tspan font-family="Liberation Serif">&#949;</tspan> (<tspan font-style="italic">mm/mm</tspan>)</text><text class="ax" style="font-size:15.12px" transform="translate(26 1032.7) rotate(-90)" x="0" y="0" text-anchor="middle">Stress, <tspan font-family="Liberation Sans" font-weight="normal">&#963;</tspan> (<tspan font-style="italic">MPa</tspan>)</text><text class="sb" x="270.1" y="1279.5" text-anchor="middle">(<tspan font-weight="bold">e</tspan>)</text></g><g><path d="M708.07 870.5V1192.75M782.73 870.5V1192.75M857.4 870.5V1192.75M932.07 870.5V1192.75M1006.73 870.5V1192.75M633.4 1128.3H1081.4M633.4 1063.85H1081.4M633.4 999.4H1081.4M633.4 934.95H1081.4" stroke="#c4c4c4" stroke-width="1.1" fill="none"/><path d="M708.07 1192.75V1188.75M782.73 1192.75V1188.75M857.4 1192.75V1188.75M932.07 1192.75V1188.75M1006.73 1192.75V1188.75M633.4 1128.3H637.4M633.4 1063.85H637.4M633.4 999.4H637.4M633.4 934.95H637.4" stroke="#555" stroke-width="1.1" fill="none"/><rect x="898" y="1087.1" width="174.7" height="96.2" fill="#fff"/><path d="M897.5 1087.1H1073.2M897.5 1183.3H1073.2" stroke="#b2b2b2" stroke-width="1.8" fill="none"/><path d="M898 1086.6V1183.8M1072.7 1086.6V1183.8" stroke="#7f7f7f" stroke-width="1.2" fill="none"/><path d="M907.6 1103H978.9" stroke="#333" stroke-width="1.3" fill="none"/><text class="lg" style="font-size:12.27px" x="996.4" y="1107.4" textLength="66.4" lengthAdjust="spacingAndGlyphs">HC-30-5.6-1</text><path d="M907.6 1118.7H978.9" stroke="#333" stroke-width="1.3" fill="none" stroke-dasharray="16.4 6.6"/><text class="lg" style="font-size:12.27px" x="996.4" y="1123.1" textLength="66.4" lengthAdjust="spacingAndGlyphs">HC-30-5.6-2</text><path d="M907.6 1134.2H978.9" stroke="#333" stroke-width="1.3" fill="none" stroke-dasharray="8.2 4.1"/><text class="lg" style="font-size:12.27px" x="996.4" y="1138.6" textLength="66.4" lengthAdjust="spacingAndGlyphs">HC-30-5.6-3</text><path d="M907.6 1150.5H978.9" stroke="#333" stroke-width="1.3" fill="none" stroke-dasharray="11.3 3.1 1.0 3.1"/><text class="lg" style="font-size:12.27px" x="996.4" y="1154.9" textLength="66.4" lengthAdjust="spacingAndGlyphs">HC-30-5.6-4</text><path d="M907.6 1167H978.9" stroke="#333" stroke-width="1.3" fill="none" stroke-dasharray="11.3 3.1 1.0 3.1 1.0 3.1"/><text class="lg" style="font-size:12.27px" x="996.4" y="1171.4" textLength="66.4" lengthAdjust="spacingAndGlyphs">HC-30-5.6-5</text><path d="M755.5 975.8C756.9 975.92 760.88 976.15 763.9 976.5C766.92 976.85 770.6 976.87 773.6 977.9C776.6 978.93 779.13 980.97 781.9 982.7C784.67 984.43 787.43 985.75 790.2 988.3C792.97 990.85 795.73 994.55 798.5 998C801.27 1001.45 804.03 1005.32 806.8 1009C809.57 1012.68 812.33 1015.93 815.1 1020.1C817.87 1024.27 821.08 1029.83 823.4 1034C825.72 1038.17 827.72 1040.95 829 1045.1C830.28 1049.25 830.42 1054.28 831.1 1058.9C831.78 1063.52 832.07 1067.95 833.1 1072.8C834.13 1077.65 835.9 1082.7 837.3 1088C838.7 1093.3 840.12 1099.05 841.5 1104.6C842.88 1110.15 844.22 1115.05 845.6 1121.3C846.98 1127.55 848.42 1135.18 849.8 1142.1C851.18 1149.02 852.63 1154.62 853.9 1162.8C855.17 1170.98 856.82 1186.47 857.4 1191.2" stroke="#000" stroke-width="1.2" fill="none" stroke-linejoin="round"/><path d="M799.9 970.9C800.82 971.72 803.78 973.13 805.4 975.8C807.02 978.47 807.98 983.67 809.6 986.9C811.22 990.13 813.25 991.73 815.1 995.2C816.95 998.67 818.97 1003.55 820.7 1007.7C822.43 1011.85 824.35 1015.95 825.5 1020.1C826.65 1024.25 826.9 1028.43 827.6 1032.6C828.3 1036.77 829.23 1041.87 829.7 1045.1C830.17 1048.33 829.27 1046.18 830.4 1052C831.53 1057.82 834.4 1070.33 836.5 1080C838.6 1089.67 840.92 1100 843 1110C845.08 1120 847.17 1130.83 849 1140C850.83 1149.17 852.6 1156.47 854 1165C855.4 1173.53 856.83 1186.83 857.4 1191.2" stroke="#000" stroke-width="1.2" fill="none" stroke-linejoin="round"/><path d="M782.6 964.7C784.1 966.32 788.72 970.93 791.6 974.4C794.48 977.87 797.13 981.57 799.9 985.5C802.67 989.43 805.43 993.85 808.2 998C810.97 1002.15 813.73 1006.02 816.5 1010.4C819.27 1014.78 822.27 1019.9 824.8 1024.3C827.33 1028.7 829.62 1032.65 831.7 1036.8C833.78 1040.95 835.67 1044.37 837.3 1049.2C838.93 1054.03 840.35 1059.57 841.5 1065.8C842.65 1072.03 843.28 1079.67 844.2 1086.6C845.12 1093.53 845.83 1099.32 847 1107.4C848.17 1115.48 849.82 1125.87 851.2 1135.1C852.58 1144.33 854.27 1153.45 855.3 1162.8C856.33 1172.15 857.05 1186.47 857.4 1191.2" stroke="#000" stroke-width="1.2" fill="none" stroke-linejoin="round" stroke-dasharray="14.7 6.0"/><path d="M790.2 980.6C791.35 982.1 794.8 986.48 797.1 989.6C799.4 992.72 801.68 995.6 804 999.3C806.32 1003 808.68 1007.87 811 1011.8C813.32 1015.73 815.83 1019.43 817.9 1022.9C819.97 1026.37 821.55 1029.13 823.4 1032.6C825.25 1036.07 827.15 1039.77 829 1043.7C830.85 1047.63 832.88 1051.82 834.5 1056.2C836.12 1060.58 837.53 1065.62 838.7 1070C839.87 1074.38 840.58 1078.12 841.5 1082.5C842.42 1086.88 843.28 1091 844.2 1096.3C845.12 1101.6 845.83 1107.83 847 1114.3C848.17 1120.77 849.82 1127.02 851.2 1135.1C852.58 1143.18 854.27 1153.45 855.3 1162.8C856.33 1172.15 857.05 1186.47 857.4 1191.2" stroke="#000" stroke-width="1.2" fill="none" stroke-linejoin="round" stroke-dasharray="7.4 3.7"/><path d="M784.6 977.2C785.77 978.82 789.28 983.67 791.6 986.9C793.92 990.13 796.2 993.13 798.5 996.6C800.8 1000.07 803.32 1004.47 805.4 1007.7C807.48 1010.93 808.92 1012.77 811 1016C813.08 1019.23 815.6 1023.42 817.9 1027.1C820.2 1030.78 822.83 1033.95 824.8 1038.1C826.77 1042.25 828.32 1047.38 829.7 1052C831.08 1056.62 831.83 1061.18 833.1 1065.8C834.37 1070.42 835.9 1074.62 837.3 1079.7C838.7 1084.78 840.12 1090.53 841.5 1096.3C842.88 1102.07 844.22 1107.83 845.6 1114.3C846.98 1120.77 848.42 1127.47 849.8 1135.1C851.18 1142.73 852.63 1150.75 853.9 1160.1C855.17 1169.45 856.82 1186.02 857.4 1191.2" stroke="#000" stroke-width="1.2" fill="none" stroke-linejoin="round" stroke-dasharray="10.1 2.8 0.9 2.8 0.9 2.8"/><path d="M951.1 976C949.17 976 943.35 975.77 939.5 976C935.65 976.23 932.08 975 928 977.4C923.92 979.8 919.1 986.3 915 990.4C910.9 994.5 907.02 998.15 903.4 1002C899.78 1005.85 896.18 1008.93 893.3 1013.5C890.42 1018.07 888.5 1024.58 886.1 1029.4C883.7 1034.22 881.3 1038.3 878.9 1042.4C876.5 1046.5 873.87 1048.95 871.7 1054C869.53 1059.05 867.47 1063.57 865.9 1072.7C864.33 1081.83 863.38 1095.55 862.3 1108.8C861.22 1122.05 860.25 1138.47 859.4 1152.2C858.55 1165.93 857.57 1184.7 857.2 1191.2" stroke="#000" stroke-width="1.2" fill="none" stroke-linejoin="round"/><path d="M949.6 970.2C947.92 970.45 943.1 970.62 939.5 971.7C935.9 972.78 931.85 974.07 928 976.7C924.15 979.33 920.25 983.77 916.4 987.5C912.55 991.23 908.75 994.52 904.9 999.1C901.05 1003.68 896.92 1009.7 893.3 1015C889.68 1020.3 886.57 1024.88 883.2 1030.9C879.83 1036.92 875.87 1044.13 873.1 1051.1C870.33 1058.07 868.28 1063.08 866.6 1072.7C864.92 1082.32 864.08 1095.55 863 1108.8C861.92 1122.05 861.07 1138.47 860.1 1152.2C859.13 1165.93 857.68 1184.7 857.2 1191.2" stroke="#000" stroke-width="1.2" fill="none" stroke-linejoin="round" stroke-dasharray="14.7 6.0"/><path d="M928.7 964.4C927.13 964.53 922.07 964.47 919.3 965.2C916.53 965.93 914.75 965.32 912.1 968.8C909.45 972.28 906.53 980.82 903.4 986.1C900.27 991.38 896.67 995.68 893.3 1000.5C889.93 1005.32 886.33 1010.42 883.2 1015C880.07 1019.58 877.15 1023.18 874.5 1028C871.85 1032.82 868.85 1037.65 867.3 1043.9C865.75 1050.15 866.03 1054.68 865.2 1065.5C864.37 1076.32 863.2 1094.35 862.3 1108.8C861.4 1123.25 860.65 1138.47 859.8 1152.2C858.95 1165.93 857.63 1184.7 857.2 1191.2" stroke="#000" stroke-width="1.2" fill="none" stroke-linejoin="round" stroke-dasharray="7.4 3.7"/><path d="M928 978.2C927.03 979.03 924.62 980.92 922.2 983.2C919.78 985.48 916.63 988.53 913.5 991.9C910.37 995.27 907 999.32 903.4 1003.4C899.8 1007.48 895.75 1011.82 891.9 1016.4C888.05 1020.98 883.67 1026.08 880.3 1030.9C876.93 1035.72 874.1 1038.33 871.7 1045.3C869.3 1052.27 867.35 1062.12 865.9 1072.7C864.45 1083.28 863.97 1095.55 863 1108.8C862.03 1122.05 861.07 1138.47 860.1 1152.2C859.13 1165.93 857.68 1184.7 857.2 1191.2" stroke="#000" stroke-width="1.2" fill="none" stroke-linejoin="round" stroke-dasharray="10.1 2.8 0.9 2.8"/><path d="M926.5 981.8C925.3 982.75 921.95 985.1 919.3 987.5C916.65 989.9 913.97 992.82 910.6 996.2C907.23 999.58 902.95 1003.47 899.1 1007.8C895.25 1012.13 891.12 1017.63 887.5 1022.2C883.88 1026.77 880.28 1030.87 877.4 1035.2C874.52 1039.53 872.23 1041.95 870.2 1048.2C868.17 1054.45 866.45 1062.6 865.2 1072.7C863.95 1082.8 863.6 1095.55 862.7 1108.8C861.8 1122.05 860.72 1138.47 859.8 1152.2C858.88 1165.93 857.63 1184.7 857.2 1191.2" stroke="#000" stroke-width="1.2" fill="none" stroke-linejoin="round" stroke-dasharray="10.1 2.8 0.9 2.8 0.9 2.8"/><path d="M632.8 870.5H1082" stroke="#262626" stroke-width="1.3" fill="none"/><path d="M632.8 1192.75H1082" stroke="#777" stroke-width="1.9" fill="none"/><path d="M633.4 869.9V1193.35" stroke="#454545" stroke-width="1.5" fill="none"/><path d="M1081.4 869.9V1193.35" stroke="#262626" stroke-width="1.3" fill="none"/><text class="tk" style="font-size:12.48px" x="633.4" y="1210.75" text-anchor="middle">-0.03</text><text class="tk" style="font-size:12.48px" x="708.07" y="1210.75" text-anchor="middle">-0.02</text><text class="tk" style="font-size:12.48px" x="782.73" y="1210.75" text-anchor="middle">-0.01</text><text class="tk" style="font-size:12.48px" x="857.4" y="1210.75" text-anchor="middle">0.00</text><text class="tk" style="font-size:12.48px" x="932.07" y="1210.75" text-anchor="middle">0.01</text><text class="tk" style="font-size:12.48px" x="1006.73" y="1210.75" text-anchor="middle">0.02</text><text class="tk" style="font-size:12.48px" x="1081.4" y="1210.75" text-anchor="middle">0.03</text><text class="tk" style="font-size:12.48px" x="626.75" y="1197.25" text-anchor="end">0</text><text class="tk" style="font-size:12.48px" x="626.75" y="1132.8" text-anchor="end">20</text><text class="tk" style="font-size:12.48px" x="626.75" y="1068.35" text-anchor="end">40</text><text class="tk" style="font-size:12.48px" x="626.75" y="1003.9" text-anchor="end">60</text><text class="tk" style="font-size:12.48px" x="626.75" y="939.45" text-anchor="end">80</text><text class="tk" style="font-size:12.48px" x="626.75" y="875" text-anchor="end">100</text><text class="ax" x="797.4" y="1239.2" textLength="120" lengthAdjust="spacingAndGlyphs">Strain, <tspan font-family="Liberation Serif">&#949;</tspan> (<tspan font-style="italic">mm/mm</tspan>)</text><text class="ax" style="font-size:15.24px" transform="translate(591 1031.62) rotate(-90)" x="0" y="0" text-anchor="middle">Stress, <tspan font-family="Liberation Sans" font-weight="normal">&#963;</tspan> (<tspan font-style="italic">MPa</tspan>)</text><text class="sb" x="838.3" y="1279.5" text-anchor="middle">(<tspan font-weight="bold">f</tspan>)</text></g><g><path d="M138.77 1303.7V1630.4M214.53 1303.7V1630.4M290.3 1303.7V1630.4M366.07 1303.7V1630.4M441.83 1303.7V1630.4M63 1565.06H517.6M63 1499.72H517.6M63 1434.38H517.6M63 1369.04H517.6" stroke="#c4c4c4" stroke-width="1.1" fill="none"/><path d="M138.77 1630.4V1626.4M214.53 1630.4V1626.4M290.3 1630.4V1626.4M366.07 1630.4V1626.4M441.83 1630.4V1626.4M63 1565.06H67M63 1499.72H67M63 1434.38H67M63 1369.04H67" stroke="#555" stroke-width="1.1" fill="none"/><rect x="331.7" y="1312.6" width="176.9" height="96.7" fill="#fff"/><path d="M331.2 1312.6H509.1M331.2 1409.3H509.1" stroke="#b2b2b2" stroke-width="1.8" fill="none"/><path d="M331.7 1312.1V1409.8M508.6 1312.1V1409.8" stroke="#7f7f7f" stroke-width="1.2" fill="none"/><path d="M341.7 1328.5H413.9" stroke="#333" stroke-width="1.3" fill="none"/><text class="lg" style="font-size:12.45px" x="431.6" y="1332.96" textLength="67.1" lengthAdjust="spacingAndGlyphs">HC-40-2.8-1</text><path d="M341.7 1344.4H413.9" stroke="#333" stroke-width="1.3" fill="none" stroke-dasharray="16.6 6.7"/><text class="lg" style="font-size:12.45px" x="431.6" y="1348.86" textLength="67.1" lengthAdjust="spacingAndGlyphs">HC-40-2.8-2</text><path d="M341.7 1360.6H413.9" stroke="#333" stroke-width="1.3" fill="none" stroke-dasharray="8.3 4.2"/><text class="lg" style="font-size:12.45px" x="431.6" y="1365.06" textLength="67.1" lengthAdjust="spacingAndGlyphs">HC-40-2.8-3</text><path d="M341.7 1376.8H413.9" stroke="#333" stroke-width="1.3" fill="none" stroke-dasharray="11.4 3.1 1.0 3.1"/><text class="lg" style="font-size:12.45px" x="431.6" y="1381.26" textLength="67.1" lengthAdjust="spacingAndGlyphs">HC-40-2.8-4</text><path d="M341.7 1393.4H413.9" stroke="#333" stroke-width="1.3" fill="none" stroke-dasharray="11.4 3.1 1.0 3.1 1.0 3.1"/><text class="lg" style="font-size:12.45px" x="431.6" y="1397.86" textLength="67.1" lengthAdjust="spacingAndGlyphs">HC-40-2.8-5</text><path d="M231.9 1443.5C233.8 1444.45 239.92 1446.77 243.3 1449.2C246.68 1451.63 249.23 1454.08 252.2 1458.1C255.17 1462.12 258.35 1467.8 261.1 1473.3C263.85 1478.8 266.58 1485.17 268.7 1491.1C270.82 1497.03 272.32 1501.7 273.8 1508.9C275.28 1516.1 276.32 1524.77 277.6 1534.3C278.88 1543.83 280.02 1555.52 281.5 1566.1C282.98 1576.68 285.03 1587.22 286.5 1597.8C287.97 1608.38 289.67 1624.3 290.3 1629.6" stroke="#000" stroke-width="1.2" fill="none" stroke-linejoin="round"/><path d="M209.1 1453.7C210.78 1454.43 216.03 1456.95 219.2 1458.1C222.37 1459.25 224.72 1459.65 228.1 1460.6C231.48 1461.55 236.53 1462.73 239.5 1463.8C242.47 1464.87 244.2 1465.83 245.9 1467C247.6 1468.17 248.22 1468.9 249.7 1470.8C251.18 1472.7 252.9 1475.02 254.8 1478.4C256.7 1481.78 259.2 1486.02 261.1 1491.1C263 1496.18 264.28 1501.7 266.2 1508.9C268.12 1516.1 270.48 1524.77 272.6 1534.3C274.72 1543.83 276.78 1555.52 278.9 1566.1C281.02 1576.68 283.4 1587.22 285.3 1597.8C287.2 1608.38 289.47 1624.3 290.3 1629.6" stroke="#000" stroke-width="1.2" fill="none" stroke-linejoin="round" stroke-dasharray="14.9 6.1"/><path d="M233.2 1437.8C234.88 1438.65 240.13 1440.57 243.3 1442.9C246.47 1445.23 249.43 1448.63 252.2 1451.8C254.97 1454.97 257.78 1458.73 259.9 1461.9C262.02 1465.07 263.43 1466.57 264.9 1470.8C266.37 1475.03 267.22 1480.95 268.7 1487.3C270.18 1493.65 272.1 1501.07 273.8 1508.9C275.5 1516.73 277.42 1524.77 278.9 1534.3C280.38 1543.83 281.32 1555.52 282.7 1566.1C284.08 1576.68 285.93 1587.22 287.2 1597.8C288.47 1608.38 289.78 1624.3 290.3 1629.6" stroke="#000" stroke-width="1.2" fill="none" stroke-linejoin="round" stroke-dasharray="7.5 3.7"/><path d="M245.9 1467C246.53 1467.42 248.43 1468.02 249.7 1469.5C250.97 1470.98 252.02 1473.57 253.5 1475.9C254.98 1478.23 256.9 1480.12 258.6 1483.5C260.3 1486.88 262.02 1490.27 263.7 1496.2C265.38 1502.13 267.02 1511.68 268.7 1519.1C270.38 1526.52 272.1 1532.87 273.8 1540.7C275.5 1548.53 277.1 1556.58 278.9 1566.1C280.7 1575.62 282.7 1587.22 284.6 1597.8C286.5 1608.38 289.35 1624.3 290.3 1629.6" stroke="#000" stroke-width="1.2" fill="none" stroke-linejoin="round" stroke-dasharray="10.3 2.8 0.9 2.8"/><path d="M236.4 1455.6C237.55 1456.02 240.87 1457.05 243.3 1458.1C245.73 1459.15 248.45 1459.78 251 1461.9C253.55 1464.02 256.07 1466.13 258.6 1470.8C261.13 1475.47 263.87 1482.48 266.2 1489.9C268.53 1497.32 270.7 1506.83 272.6 1515.3C274.5 1523.77 276.02 1532.23 277.6 1540.7C279.18 1549.17 280.62 1556.58 282.1 1566.1C283.58 1575.62 285.13 1587.22 286.5 1597.8C287.87 1608.38 289.67 1624.3 290.3 1629.6" stroke="#000" stroke-width="1.2" fill="none" stroke-linejoin="round" stroke-dasharray="10.3 2.8 0.9 2.8 0.9 2.8"/><path d="M382.9 1443.2C380.42 1443.53 372.97 1444.08 368 1445.2C363.03 1446.32 358.28 1447.87 353.1 1449.9C347.92 1451.93 341.87 1454.57 336.9 1457.4C331.93 1460.23 327.37 1463.07 323.3 1466.9C319.23 1470.73 315.43 1476.35 312.5 1480.4C309.57 1484.45 307.5 1487.13 305.7 1491.2C303.9 1495.27 302.93 1498.03 301.7 1504.8C300.47 1511.57 299.32 1521.65 298.3 1531.8C297.28 1541.95 296.5 1554.42 295.6 1565.7C294.7 1576.98 293.73 1588.9 292.9 1599.5C292.07 1610.1 290.98 1624.33 290.6 1629.3" stroke="#000" stroke-width="1.2" fill="none" stroke-linejoin="round"/><path d="M416.7 1452.6C413.1 1452.72 401.63 1452.83 395.1 1453.3C388.57 1453.77 383.15 1454.83 377.5 1455.4C371.85 1455.97 367.07 1456.03 361.2 1456.7C355.33 1457.37 348.17 1458.17 342.3 1459.4C336.43 1460.63 330.52 1461.73 326 1464.1C321.48 1466.47 318.35 1469.08 315.2 1473.6C312.05 1478.12 309.13 1486 307.1 1491.2C305.07 1496.4 304.35 1498.03 303 1504.8C301.65 1511.57 300.13 1521.65 299 1531.8C297.87 1541.95 297.12 1554.42 296.2 1565.7C295.28 1576.98 294.43 1588.9 293.5 1599.5C292.57 1610.1 291.08 1624.33 290.6 1629.3" stroke="#000" stroke-width="1.2" fill="none" stroke-linejoin="round" stroke-dasharray="14.9 6.1"/><path d="M390.3 1437.8C387.72 1437.9 379.65 1438.18 374.8 1438.4C369.95 1438.62 366.17 1437.97 361.2 1439.1C356.23 1440.23 349.97 1443.05 345 1445.2C340.03 1447.35 335.92 1449.75 331.4 1452C326.88 1454.25 321.95 1456.45 317.9 1458.7C313.85 1460.95 309.58 1462.78 307.1 1465.5C304.62 1468.22 303.9 1469.58 303 1475C302.1 1480.42 302.48 1488.53 301.7 1498C300.92 1507.47 299.32 1520.52 298.3 1531.8C297.28 1543.08 296.5 1554.42 295.6 1565.7C294.7 1576.98 293.73 1588.9 292.9 1599.5C292.07 1610.1 290.98 1624.33 290.6 1629.3" stroke="#000" stroke-width="1.2" fill="none" stroke-linejoin="round" stroke-dasharray="7.5 3.7"/><path d="M363.9 1456.7C360.75 1456.93 350.42 1457.32 345 1458.1C339.58 1458.88 335.47 1459.72 331.4 1461.4C327.33 1463.08 323.98 1465.03 320.6 1468.2C317.22 1471.37 313.58 1477.02 311.1 1480.4C308.62 1483.78 307.17 1484.43 305.7 1488.5C304.23 1492.57 303.47 1497.58 302.3 1504.8C301.13 1512.02 299.75 1521.65 298.7 1531.8C297.65 1541.95 296.9 1554.42 296 1565.7C295.1 1576.98 294.2 1588.9 293.3 1599.5C292.4 1610.1 291.05 1624.33 290.6 1629.3" stroke="#000" stroke-width="1.2" fill="none" stroke-linejoin="round" stroke-dasharray="10.3 2.8 0.9 2.8"/><path d="M374.8 1456C371.63 1456.12 362.12 1456.02 355.8 1456.7C349.48 1457.38 342.77 1458.63 336.9 1460.1C331.03 1461.57 325.35 1463.92 320.6 1465.5C315.85 1467.08 311.38 1467.12 308.4 1469.6C305.42 1472.08 303.82 1475.67 302.7 1480.4C301.58 1485.13 302.42 1489.43 301.7 1498C300.98 1506.57 299.4 1520.52 298.4 1531.8C297.4 1543.08 296.6 1554.42 295.7 1565.7C294.8 1576.98 293.85 1588.9 293 1599.5C292.15 1610.1 291 1624.33 290.6 1629.3" stroke="#000" stroke-width="1.2" fill="none" stroke-linejoin="round" stroke-dasharray="10.3 2.8 0.9 2.8 0.9 2.8"/><path d="M62.4 1303.7H518.2" stroke="#454545" stroke-width="1.5" fill="none"/><path d="M62.4 1630.4H518.2" stroke="#262626" stroke-width="1.3" fill="none"/><path d="M63 1303.1V1631" stroke="#777" stroke-width="1.9" fill="none"/><path d="M517.6 1303.1V1631" stroke="#262626" stroke-width="1.3" fill="none"/><text class="tk" style="font-size:12.66px" x="63" y="1648.75" text-anchor="middle">-0.03</text><text class="tk" style="font-size:12.66px" x="138.77" y="1648.75" text-anchor="middle">-0.02</text><text class="tk" style="font-size:12.66px" x="214.53" y="1648.75" text-anchor="middle">-0.01</text><text class="tk" style="font-size:12.66px" x="290.3" y="1648.75" text-anchor="middle">0.00</text><text class="tk" style="font-size:12.66px" x="366.07" y="1648.75" text-anchor="middle">0.01</text><text class="tk" style="font-size:12.66px" x="441.83" y="1648.75" text-anchor="middle">0.02</text><text class="tk" style="font-size:12.66px" x="517.6" y="1648.75" text-anchor="middle">0.03</text><text class="tk" style="font-size:12.66px" x="56.25" y="1634.97" text-anchor="end">0</text><text class="tk" style="font-size:12.66px" x="56.25" y="1569.63" text-anchor="end">20</text><text class="tk" style="font-size:12.66px" x="56.25" y="1504.29" text-anchor="end">40</text><text class="tk" style="font-size:12.66px" x="56.25" y="1438.95" text-anchor="end">60</text><text class="tk" style="font-size:12.66px" x="56.25" y="1373.61" text-anchor="end">80</text><text class="tk" style="font-size:12.66px" x="56.25" y="1308.27" text-anchor="end">100</text><text class="ax" x="229.4" y="1678.2" textLength="122" lengthAdjust="spacingAndGlyphs">Strain, <tspan font-family="Liberation Serif">&#949;</tspan> (<tspan font-style="italic">mm/mm</tspan>)</text><text class="ax" style="font-size:15.46px" transform="translate(20 1467.05) rotate(-90)" x="0" y="0" text-anchor="middle">Stress, <tspan font-family="Liberation Sans" font-weight="normal">&#963;</tspan> (<tspan font-style="italic">MPa</tspan>)</text><text class="sb" x="270" y="1718.5" text-anchor="middle">(<tspan font-weight="bold">g</tspan>)</text></g><g><path d="M705.58 1303.3V1630.4M781.47 1303.3V1630.4M857.35 1303.3V1630.4M933.23 1303.3V1630.4M1009.12 1303.3V1630.4M629.7 1564.98H1085M629.7 1499.56H1085M629.7 1434.14H1085M629.7 1368.72H1085" stroke="#c4c4c4" stroke-width="1.1" fill="none"/><path d="M705.58 1630.4V1626.4M781.47 1630.4V1626.4M857.35 1630.4V1626.4M933.23 1630.4V1626.4M1009.12 1630.4V1626.4M629.7 1564.98H633.7M629.7 1499.56H633.7M629.7 1434.14H633.7M629.7 1368.72H633.7" stroke="#555" stroke-width="1.1" fill="none"/><rect x="899.4" y="1530.5" width="176.9" height="81.9" fill="#fff"/><path d="M898.9 1530.5H1076.8M898.9 1612.4H1076.8" stroke="#b2b2b2" stroke-width="1.8" fill="none"/><path d="M899.4 1530V1612.9M1076.3 1530V1612.9" stroke="#7f7f7f" stroke-width="1.2" fill="none"/><path d="M909 1547.1H981.9" stroke="#333" stroke-width="1.3" fill="none"/><text class="lg" style="font-size:12.47px" x="999.1" y="1551.57" textLength="67.3" lengthAdjust="spacingAndGlyphs">HC-40-4.2-1</text><path d="M909 1563H981.9" stroke="#333" stroke-width="1.3" fill="none" stroke-dasharray="16.6 6.8"/><text class="lg" style="font-size:12.47px" x="999.1" y="1567.47" textLength="67.3" lengthAdjust="spacingAndGlyphs">HC-40-4.2-2</text><path d="M909 1579H981.9" stroke="#333" stroke-width="1.3" fill="none" stroke-dasharray="11.4 3.1 1.0 3.1"/><text class="lg" style="font-size:12.47px" x="999.1" y="1583.47" textLength="67.3" lengthAdjust="spacingAndGlyphs">HC-40-4.2-4</text><path d="M909 1595.8H981.9" stroke="#333" stroke-width="1.3" fill="none" stroke-dasharray="11.4 3.1 1.0 3.1 1.0 3.1"/><text class="lg" style="font-size:12.47px" x="999.1" y="1600.27" textLength="67.3" lengthAdjust="spacingAndGlyphs">HC-40-4.2-5</text><path d="M783.2 1405.5C784 1405.5 785.58 1405.03 788 1405.5C790.42 1405.97 794.23 1406.22 797.7 1408.3C801.17 1410.38 805.33 1413.62 808.8 1418C812.27 1422.38 815.03 1428.83 818.5 1434.6C821.97 1440.37 826.83 1446.13 829.6 1452.6C832.37 1459.07 833.25 1465.55 835.1 1473.4C836.95 1481.25 839.08 1490 840.7 1499.7C842.32 1509.4 843.42 1521.67 844.8 1531.6C846.18 1541.53 847.62 1548.9 849 1559.3C850.38 1569.7 851.72 1582.33 853.1 1594C854.48 1605.67 856.6 1623.42 857.3 1629.3" stroke="#000" stroke-width="1.2" fill="none" stroke-linejoin="round"/><path d="M798.4 1442.9C799.67 1443.6 803.35 1445.48 806 1447.1C808.65 1448.72 811.53 1450.75 814.3 1452.6C817.07 1454.45 820.28 1456.35 822.6 1458.2C824.92 1460.05 826.35 1460.47 828.2 1463.7C830.05 1466.93 831.85 1471.6 833.7 1477.6C835.55 1483.6 837.68 1490.7 839.3 1499.7C840.92 1508.7 842.02 1521.67 843.4 1531.6C844.78 1541.53 846.1 1548.9 847.6 1559.3C849.1 1569.7 850.78 1582.33 852.4 1594C854.02 1605.67 856.48 1623.42 857.3 1629.3" stroke="#000" stroke-width="1.2" fill="none" stroke-linejoin="round" stroke-dasharray="15.0 6.1"/><path d="M798.4 1424.2C799.67 1425.48 803.35 1428.55 806 1431.9C808.65 1435.25 811.53 1440.38 814.3 1444.3C817.07 1448.22 819.82 1451.93 822.6 1455.4C825.38 1458.87 828.68 1460.48 831 1465.1C833.32 1469.72 835 1477.33 836.5 1483.1C838 1488.87 838.73 1491.62 840 1499.7C841.27 1507.78 842.72 1521.67 844.1 1531.6C845.48 1541.53 846.85 1548.9 848.3 1559.3C849.75 1569.7 851.3 1582.33 852.8 1594C854.3 1605.67 856.55 1623.42 857.3 1629.3" stroke="#000" stroke-width="1.2" fill="none" stroke-linejoin="round" stroke-dasharray="10.3 2.8 0.9 2.8"/><path d="M810.2 1403.5C811.35 1404.3 814.8 1405.42 817.1 1408.3C819.4 1411.18 821.92 1415.95 824 1420.8C826.08 1425.65 827.52 1431.63 829.6 1437.4C831.68 1443.17 834.88 1448.93 836.5 1455.4C838.12 1461.87 838.48 1468.82 839.3 1476.2C840.12 1483.58 840.37 1490.47 841.4 1499.7C842.43 1508.93 844.12 1521.67 845.5 1531.6C846.88 1541.53 848.32 1548.9 849.7 1559.3C851.08 1569.7 852.53 1582.33 853.8 1594C855.07 1605.67 856.72 1623.42 857.3 1629.3" stroke="#000" stroke-width="1.2" fill="none" stroke-linejoin="round" stroke-dasharray="10.3 2.8 0.9 2.8 0.9 2.8"/><path d="M944.6 1405.6C942.3 1405.65 935.73 1404.42 930.8 1405.9C925.87 1407.38 919.57 1411.13 915 1414.5C910.43 1417.87 907.25 1422.25 903.4 1426.1C899.55 1429.95 895.75 1433.75 891.9 1437.6C888.05 1441.45 883.67 1445.1 880.3 1449.2C876.93 1453.3 873.75 1457.63 871.7 1462.2C869.65 1466.77 869.08 1469.38 868 1476.6C866.92 1483.82 866.15 1493.47 865.2 1505.5C864.25 1517.53 863.27 1534.37 862.3 1548.8C861.33 1563.23 860.25 1578.75 859.4 1592.1C858.55 1605.45 857.57 1622.77 857.2 1628.9" stroke="#000" stroke-width="1.2" fill="none" stroke-linejoin="round"/><path d="M928 1442.7C926.55 1442.93 922.2 1443.27 919.3 1444.1C916.4 1444.93 913.73 1446.25 910.6 1447.7C907.47 1449.15 903.87 1451.1 900.5 1452.8C897.13 1454.5 893.77 1456.58 890.4 1457.9C887.03 1459.22 883.18 1459.75 880.3 1460.7C877.42 1461.65 875.02 1460.95 873.1 1463.6C871.18 1466.25 870.05 1469.62 868.8 1476.6C867.55 1483.58 866.62 1493.47 865.6 1505.5C864.58 1517.53 863.67 1534.37 862.7 1548.8C861.73 1563.23 860.72 1578.75 859.8 1592.1C858.88 1605.45 857.63 1622.77 857.2 1628.9" stroke="#000" stroke-width="1.2" fill="none" stroke-linejoin="round" stroke-dasharray="15.0 6.1"/><path d="M921.5 1424.4C919.68 1424.43 913.85 1423.35 910.6 1424.6C907.35 1425.85 904.88 1429 902 1431.9C899.12 1434.8 896.43 1438.63 893.3 1442C890.17 1445.37 886.33 1448.98 883.2 1452.1C880.07 1455.22 876.78 1456.62 874.5 1460.7C872.22 1464.78 870.93 1469.13 869.5 1476.6C868.07 1484.07 866.98 1493.47 865.9 1505.5C864.82 1517.53 863.92 1534.37 863 1548.8C862.08 1563.23 861.37 1578.75 860.4 1592.1C859.43 1605.45 857.73 1622.77 857.2 1628.9" stroke="#000" stroke-width="1.2" fill="none" stroke-linejoin="round" stroke-dasharray="10.3 2.8 0.9 2.8"/><path d="M925.1 1404.4C922.93 1405.37 915.47 1407.78 912.1 1410.2C908.73 1412.62 907.55 1415.28 904.9 1418.9C902.25 1422.52 899.58 1427.57 896.2 1431.9C892.82 1436.23 888.22 1440.57 884.6 1444.9C880.98 1449.23 877.13 1453.1 874.5 1457.9C871.87 1462.7 870.28 1465.77 868.8 1473.7C867.32 1481.63 866.57 1492.98 865.6 1505.5C864.63 1518.02 863.92 1534.37 863 1548.8C862.08 1563.23 861.07 1578.75 860.1 1592.1C859.13 1605.45 857.68 1622.77 857.2 1628.9" stroke="#000" stroke-width="1.2" fill="none" stroke-linejoin="round" stroke-dasharray="10.3 2.8 0.9 2.8 0.9 2.8"/><path d="M629.1 1303.3H1085.6" stroke="#454545" stroke-width="1.5" fill="none"/><path d="M629.1 1630.4H1085.6" stroke="#262626" stroke-width="1.3" fill="none"/><path d="M629.7 1302.7V1631" stroke="#262626" stroke-width="1.3" fill="none"/><path d="M1085 1302.7V1631" stroke="#777" stroke-width="1.9" fill="none"/><text class="tk" style="font-size:12.68px" x="629.7" y="1648.75" text-anchor="middle">-0.03</text><text class="tk" style="font-size:12.68px" x="705.58" y="1648.75" text-anchor="middle">-0.02</text><text class="tk" style="font-size:12.68px" x="781.47" y="1648.75" text-anchor="middle">-0.01</text><text class="tk" style="font-size:12.68px" x="857.35" y="1648.75" text-anchor="middle">0.00</text><text class="tk" style="font-size:12.68px" x="933.23" y="1648.75" text-anchor="middle">0.01</text><text class="tk" style="font-size:12.68px" x="1009.12" y="1648.75" text-anchor="middle">0.02</text><text class="tk" style="font-size:12.68px" x="1085" y="1648.75" text-anchor="middle">0.03</text><text class="tk" style="font-size:12.68px" x="622.94" y="1634.97" text-anchor="end">0</text><text class="tk" style="font-size:12.68px" x="622.94" y="1569.55" text-anchor="end">20</text><text class="tk" style="font-size:12.68px" x="622.94" y="1504.13" text-anchor="end">40</text><text class="tk" style="font-size:12.68px" x="622.94" y="1438.71" text-anchor="end">60</text><text class="tk" style="font-size:12.68px" x="622.94" y="1373.29" text-anchor="end">80</text><text class="tk" style="font-size:12.68px" x="622.94" y="1307.87" text-anchor="end">100</text><text class="ax" x="796.5" y="1678.2" textLength="122" lengthAdjust="spacingAndGlyphs">Strain, <tspan font-family="Liberation Serif">&#949;</tspan> (<tspan font-style="italic">mm/mm</tspan>)</text><text class="ax" style="font-size:15.49px" transform="translate(586.5 1466.85) rotate(-90)" x="0" y="0" text-anchor="middle">Stress, <tspan font-family="Liberation Sans" font-weight="normal">&#963;</tspan> (<tspan font-style="italic">MPa</tspan>)</text><text class="sb" x="838.4" y="1718.8" text-anchor="middle">(<tspan font-weight="bold">h</tspan>)</text></g></svg></body></html>
